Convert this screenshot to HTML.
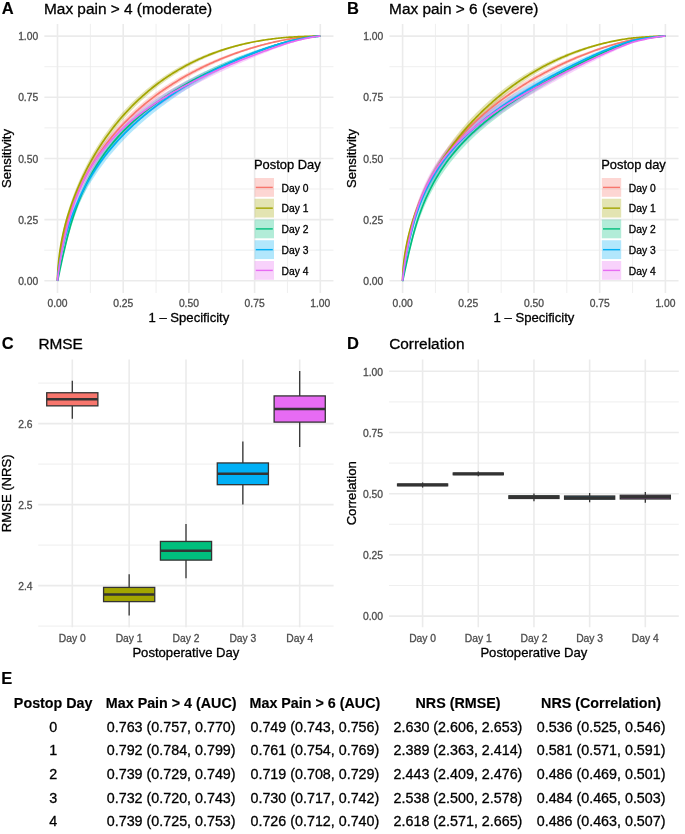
<!DOCTYPE html>
<html><head><meta charset="utf-8"><style>html,body{margin:0;padding:0;background:#fff;width:685px;height:834px;overflow:hidden}svg{display:block;will-change:transform}</style></head><body>
<svg width="685" height="834" viewBox="0 0 685 834" font-family='"Liberation Sans", sans-serif'>
<rect width="685" height="834" fill="#fff"/>
<line x1="90.35" y1="23.90" x2="90.35" y2="293.00" stroke="#EBEBEB" stroke-width="0.8" />
<line x1="44.35" y1="250.21" x2="333.45" y2="250.21" stroke="#EBEBEB" stroke-width="0.8" />
<line x1="156.05" y1="23.90" x2="156.05" y2="293.00" stroke="#EBEBEB" stroke-width="0.8" />
<line x1="44.35" y1="189.04" x2="333.45" y2="189.04" stroke="#EBEBEB" stroke-width="0.8" />
<line x1="221.75" y1="23.90" x2="221.75" y2="293.00" stroke="#EBEBEB" stroke-width="0.8" />
<line x1="44.35" y1="127.86" x2="333.45" y2="127.86" stroke="#EBEBEB" stroke-width="0.8" />
<line x1="287.45" y1="23.90" x2="287.45" y2="293.00" stroke="#EBEBEB" stroke-width="0.8" />
<line x1="44.35" y1="66.69" x2="333.45" y2="66.69" stroke="#EBEBEB" stroke-width="0.8" />
<line x1="57.50" y1="23.90" x2="57.50" y2="293.00" stroke="#EBEBEB" stroke-width="1.6" />
<line x1="44.35" y1="280.80" x2="333.45" y2="280.80" stroke="#EBEBEB" stroke-width="1.6" />
<line x1="123.20" y1="23.90" x2="123.20" y2="293.00" stroke="#EBEBEB" stroke-width="1.6" />
<line x1="44.35" y1="219.62" x2="333.45" y2="219.62" stroke="#EBEBEB" stroke-width="1.6" />
<line x1="188.90" y1="23.90" x2="188.90" y2="293.00" stroke="#EBEBEB" stroke-width="1.6" />
<line x1="44.35" y1="158.45" x2="333.45" y2="158.45" stroke="#EBEBEB" stroke-width="1.6" />
<line x1="254.60" y1="23.90" x2="254.60" y2="293.00" stroke="#EBEBEB" stroke-width="1.6" />
<line x1="44.35" y1="97.28" x2="333.45" y2="97.28" stroke="#EBEBEB" stroke-width="1.6" />
<line x1="320.30" y1="23.90" x2="320.30" y2="293.00" stroke="#EBEBEB" stroke-width="1.6" />
<line x1="44.35" y1="36.10" x2="333.45" y2="36.10" stroke="#EBEBEB" stroke-width="1.6" />
<polygon points="57.50,280.80 57.50,280.77 57.50,280.76 57.50,280.75 57.50,280.74 57.50,280.73 57.50,280.71 57.50,280.69 57.50,280.67 57.50,280.64 57.50,280.60 57.50,280.56 57.50,280.51 57.51,280.45 57.51,280.37 57.51,280.28 57.51,280.18 57.52,280.05 57.52,279.89 57.53,279.70 57.53,279.48 57.54,279.21 57.55,278.89 57.57,278.50 57.59,278.04 57.62,277.49 57.65,276.83 57.69,276.06 57.75,275.13 57.82,274.04 57.91,272.74 58.03,271.21 58.19,269.41 58.39,267.29 58.65,264.80 58.98,261.89 59.40,258.49 59.95,254.53 60.66,249.94 61.58,244.63 62.76,238.52 64.05,232.49 65.34,227.01 66.64,221.96 67.93,217.26 69.23,212.88 70.52,208.76 71.82,204.87 73.11,201.18 74.40,197.67 75.70,194.32 76.99,191.11 78.29,188.03 79.58,185.07 80.87,182.21 82.17,179.46 83.46,176.80 84.76,174.22 86.05,171.72 87.35,169.30 88.64,166.94 89.93,164.65 91.23,162.43 92.52,160.26 93.82,158.14 95.11,156.08 96.40,154.07 97.70,152.10 98.99,150.18 100.29,148.30 101.58,146.46 102.88,144.66 104.17,142.90 105.46,141.18 106.76,139.49 108.05,137.83 109.35,136.20 110.64,134.61 111.94,133.04 113.23,131.50 114.52,130.00 115.82,128.51 117.11,127.06 118.41,125.62 119.70,124.22 120.99,122.83 122.29,121.47 123.58,120.13 124.88,118.81 126.17,117.51 127.47,116.24 128.76,114.98 130.05,113.74 131.35,112.52 132.64,111.32 133.94,110.13 135.23,108.97 136.52,107.82 137.82,106.68 139.11,105.57 140.41,104.47 141.70,103.38 143.00,102.31 144.29,101.25 145.58,100.21 146.88,99.18 148.17,98.17 149.47,97.16 150.76,96.18 152.06,95.20 153.35,94.24 154.64,93.29 155.94,92.35 157.23,91.43 158.53,90.51 159.82,89.61 161.11,88.72 162.41,87.84 163.70,86.97 165.00,86.11 166.29,85.26 167.59,84.43 168.88,83.60 170.17,82.78 171.47,81.97 172.76,81.18 174.06,80.39 175.35,79.61 176.64,78.84 177.94,78.08 179.23,77.33 180.53,76.59 181.82,75.86 183.12,75.13 184.41,74.42 185.70,73.71 187.00,73.01 188.29,72.32 189.59,71.64 190.88,70.96 192.17,70.30 193.47,69.64 194.76,68.99 196.06,68.35 197.35,67.71 198.65,67.08 199.94,66.46 201.23,65.85 202.53,65.24 203.82,64.64 205.12,64.05 206.41,63.47 207.71,62.89 209.00,62.32 210.29,61.76 211.59,61.20 212.88,60.65 214.18,60.10 215.47,59.57 216.76,59.04 218.06,58.51 219.35,58.00 220.65,57.48 221.94,56.98 223.24,56.48 224.53,55.99 225.82,55.50 227.12,55.02 228.41,54.55 229.71,54.08 231.00,53.62 232.29,53.16 233.59,52.71 234.88,52.27 236.18,51.83 237.47,51.40 238.77,50.97 240.06,50.55 241.35,50.14 242.65,49.73 243.94,49.33 245.24,48.93 246.53,48.54 247.83,48.15 249.12,47.77 250.41,47.40 251.71,47.03 253.00,46.67 254.30,46.31 255.59,45.96 256.88,45.61 258.18,45.27 259.47,44.94 260.77,44.61 262.06,44.28 263.36,43.97 264.65,43.65 265.94,43.35 267.24,43.05 268.53,42.75 269.83,42.46 271.12,42.18 272.41,41.90 273.71,41.62 275.00,41.36 276.30,41.09 277.59,40.84 278.89,40.59 280.18,40.34 281.47,40.10 282.77,39.87 284.06,39.65 285.36,39.42 286.65,39.21 287.94,39.01 289.24,38.83 290.53,38.65 291.83,38.48 293.12,38.32 294.42,38.15 295.71,38.00 297.00,37.85 298.30,37.70 299.59,37.56 300.89,37.42 302.18,37.29 303.48,37.17 304.77,37.05 306.06,36.93 307.36,36.82 308.65,36.72 309.95,36.62 311.24,36.53 312.53,36.44 313.83,36.36 315.12,36.29 316.42,36.23 317.71,36.17 319.01,36.13 320.30,36.10 320.30,36.10 320.30,36.10 320.30,36.10 319.01,36.14 317.71,36.20 316.42,36.27 315.12,36.35 313.83,36.44 312.53,36.54 311.24,36.65 309.95,36.77 308.65,36.89 307.36,37.02 306.06,37.15 304.77,37.30 303.48,37.45 302.18,37.60 300.89,37.76 299.59,37.93 298.30,38.10 297.00,38.28 295.71,38.46 294.42,38.65 293.12,38.84 291.83,39.04 290.53,39.25 289.24,39.46 287.94,39.67 286.65,39.91 285.36,40.17 284.06,40.43 282.77,40.70 281.47,40.98 280.18,41.26 278.89,41.55 277.59,41.84 276.30,42.14 275.00,42.45 273.71,42.76 272.41,43.08 271.12,43.41 269.83,43.74 268.53,44.07 267.24,44.42 265.94,44.77 264.65,45.12 263.36,45.49 262.06,45.85 260.77,46.23 259.47,46.61 258.18,46.99 256.88,47.38 255.59,47.78 254.30,48.18 253.00,48.59 251.71,49.01 250.41,49.43 249.12,49.85 247.83,50.29 246.53,50.72 245.24,51.17 243.94,51.62 242.65,52.08 241.35,52.54 240.06,53.01 238.77,53.48 237.47,53.96 236.18,54.45 234.88,54.94 233.59,55.44 232.29,55.94 231.00,56.45 229.71,56.97 228.41,57.49 227.12,58.02 225.82,58.56 224.53,59.10 223.24,59.65 221.94,60.20 220.65,60.77 219.35,61.33 218.06,61.91 216.76,62.49 215.47,63.08 214.18,63.67 212.88,64.27 211.59,64.88 210.29,65.49 209.00,66.11 207.71,66.74 206.41,67.38 205.12,68.02 203.82,68.67 202.53,69.32 201.23,69.99 199.94,70.66 198.65,71.34 197.35,72.02 196.06,72.71 194.76,73.41 193.47,74.12 192.17,74.84 190.88,75.56 189.59,76.29 188.29,77.03 187.00,77.78 185.70,78.54 184.41,79.30 183.12,80.08 181.82,80.86 180.53,81.65 179.23,82.45 177.94,83.25 176.64,84.07 175.35,84.90 174.06,85.73 172.76,86.57 171.47,87.43 170.17,88.29 168.88,89.16 167.59,90.05 166.29,90.94 165.00,91.84 163.70,92.76 162.41,93.68 161.11,94.62 159.82,95.56 158.53,96.52 157.23,97.49 155.94,98.47 154.64,99.46 153.35,100.46 152.06,101.48 150.76,102.50 149.47,103.54 148.17,104.60 146.88,105.66 145.58,106.74 144.29,107.83 143.00,108.94 141.70,110.06 140.41,111.20 139.11,112.35 137.82,113.51 136.52,114.69 135.23,115.89 133.94,117.10 132.64,118.33 131.35,119.58 130.05,120.84 128.76,122.12 127.47,123.42 126.17,124.74 124.88,126.08 123.58,127.44 122.29,128.82 120.99,130.22 119.70,131.64 118.41,133.08 117.11,134.55 115.82,136.04 114.52,137.55 113.23,139.09 111.94,140.66 110.64,142.25 109.35,143.87 108.05,145.52 106.76,147.20 105.46,148.91 104.17,150.65 102.88,152.43 101.58,154.24 100.29,156.09 98.99,157.98 97.70,159.90 96.40,161.87 95.11,163.89 93.82,165.94 92.52,168.05 91.23,170.21 89.93,172.42 88.64,174.69 87.35,177.02 86.05,179.41 84.76,181.87 83.46,184.40 82.17,187.01 80.87,189.71 79.58,192.50 78.29,195.38 76.99,198.37 75.70,201.48 74.40,204.72 73.11,208.10 71.82,211.64 70.52,215.36 69.23,219.28 67.93,223.44 66.64,227.88 65.34,232.63 64.05,237.75 62.76,243.33 61.58,248.96 60.66,253.81 59.95,257.97 59.40,261.53 58.98,264.56 58.65,267.15 58.39,269.34 58.19,271.19 58.03,272.76 57.91,274.08 57.82,275.19 57.75,276.12 57.69,276.91 57.65,277.56 57.62,278.11 57.59,278.57 57.57,278.95 57.55,279.27 57.54,279.53 57.53,279.75 57.53,279.93 57.52,280.09 57.52,280.21 57.51,280.31 57.51,280.40 57.51,280.47 57.51,280.53 57.50,280.58 57.50,280.62 57.50,280.65 57.50,280.68 57.50,280.70 57.50,280.72 57.50,280.73 57.50,280.74 57.50,280.75 57.50,280.76 57.50,280.77 57.50,280.78 57.50,280.80" fill="#F8766D" fill-opacity="0.3" stroke="none"/>
<polygon points="57.50,280.80 57.50,280.67 57.50,280.65 57.50,280.62 57.50,280.59 57.50,280.56 57.50,280.51 57.50,280.46 57.50,280.40 57.50,280.34 57.50,280.25 57.50,280.16 57.50,280.05 57.51,279.92 57.51,279.77 57.51,279.59 57.51,279.38 57.52,279.14 57.52,278.86 57.53,278.54 57.53,278.16 57.54,277.71 57.55,277.20 57.57,276.61 57.59,275.92 57.62,275.12 57.65,274.19 57.69,273.12 57.75,271.89 57.82,270.47 57.91,268.83 58.03,266.95 58.19,264.79 58.39,262.31 58.65,259.47 58.98,256.23 59.40,252.54 59.95,248.34 60.66,243.57 61.58,238.17 62.76,232.08 64.05,226.17 65.34,220.88 66.64,216.05 67.93,211.58 69.23,207.37 70.52,203.38 71.82,199.58 73.11,195.96 74.40,192.48 75.70,189.14 76.99,185.92 78.29,182.81 79.58,179.81 80.87,176.90 82.17,174.07 83.46,171.33 84.76,168.67 86.05,166.08 87.35,163.56 88.64,161.10 89.93,158.70 91.23,156.36 92.52,154.07 93.82,151.84 95.11,149.66 96.40,147.52 97.70,145.43 98.99,143.39 100.29,141.39 101.58,139.43 102.88,137.50 104.17,135.62 105.46,133.77 106.76,131.96 108.05,130.18 109.35,128.44 110.64,126.72 111.94,125.04 113.23,123.39 114.52,121.77 115.82,120.18 117.11,118.61 118.41,117.08 119.70,115.57 120.99,114.08 122.29,112.62 123.58,111.19 124.88,109.78 126.17,108.39 127.47,107.02 128.76,105.68 130.05,104.36 131.35,103.06 132.64,101.78 133.94,100.53 135.23,99.29 136.52,98.07 137.82,96.88 139.11,95.70 140.41,94.54 141.70,93.40 143.00,92.27 144.29,91.17 145.58,90.08 146.88,89.01 148.17,87.95 149.47,86.91 150.76,85.89 152.06,84.89 153.35,83.90 154.64,82.92 155.94,81.96 157.23,81.02 158.53,80.09 159.82,79.17 161.11,78.27 162.41,77.38 163.70,76.51 165.00,75.65 166.29,74.80 167.59,73.97 168.88,73.15 170.17,72.34 171.47,71.55 172.76,70.77 174.06,70.00 175.35,69.24 176.64,68.49 177.94,67.76 179.23,67.04 180.53,66.33 181.82,65.63 183.12,64.94 184.41,64.27 185.70,63.60 187.00,62.95 188.29,62.30 189.59,61.67 190.88,61.05 192.17,60.43 193.47,59.83 194.76,59.24 196.06,58.66 197.35,58.09 198.65,57.52 199.94,56.97 201.23,56.43 202.53,55.89 203.82,55.37 205.12,54.85 206.41,54.35 207.71,53.85 209.00,53.36 210.29,52.88 211.59,52.41 212.88,51.95 214.18,51.49 215.47,51.05 216.76,50.61 218.06,50.18 219.35,49.76 220.65,49.35 221.94,48.95 223.24,48.55 224.53,48.16 225.82,47.78 227.12,47.40 228.41,47.04 229.71,46.68 231.00,46.33 232.29,45.98 233.59,45.65 234.88,45.32 236.18,45.00 237.47,44.68 238.77,44.37 240.06,44.07 241.35,43.78 242.65,43.49 243.94,43.21 245.24,42.93 246.53,42.66 247.83,42.40 249.12,42.15 250.41,41.90 251.71,41.65 253.00,41.42 254.30,41.19 255.59,40.96 256.88,40.74 258.18,40.53 259.47,40.32 260.77,40.12 262.06,39.93 263.36,39.74 264.65,39.56 265.94,39.38 267.24,39.20 268.53,39.04 269.83,38.87 271.12,38.72 272.41,38.57 273.71,38.42 275.00,38.28 276.30,38.14 277.59,38.01 278.89,37.89 280.18,37.76 281.47,37.65 282.77,37.54 284.06,37.43 285.36,37.33 286.65,37.23 287.94,37.14 289.24,37.07 290.53,37.00 291.83,36.93 293.12,36.87 294.42,36.80 295.71,36.74 297.00,36.69 298.30,36.63 299.59,36.58 300.89,36.53 302.18,36.48 303.48,36.44 304.77,36.40 306.06,36.36 307.36,36.32 308.65,36.28 309.95,36.25 311.24,36.22 312.53,36.20 313.83,36.17 315.12,36.15 316.42,36.13 317.71,36.12 319.01,36.11 320.30,36.10 320.30,36.10 320.30,36.10 320.30,36.10 319.01,36.11 317.71,36.13 316.42,36.15 315.12,36.17 313.83,36.20 312.53,36.23 311.24,36.27 309.95,36.31 308.65,36.35 307.36,36.40 306.06,36.45 304.77,36.50 303.48,36.55 302.18,36.61 300.89,36.67 299.59,36.74 298.30,36.80 297.00,36.87 295.71,36.95 294.42,37.03 293.12,37.10 291.83,37.19 290.53,37.27 289.24,37.36 287.94,37.45 286.65,37.56 285.36,37.69 284.06,37.81 282.77,37.95 281.47,38.09 280.18,38.23 278.89,38.38 277.59,38.54 276.30,38.70 275.00,38.87 273.71,39.04 272.41,39.22 271.12,39.41 269.83,39.60 268.53,39.80 267.24,40.00 265.94,40.21 264.65,40.43 263.36,40.65 262.06,40.88 260.77,41.12 259.47,41.36 258.18,41.61 256.88,41.86 255.59,42.13 254.30,42.39 253.00,42.67 251.71,42.95 250.41,43.24 249.12,43.54 247.83,43.84 246.53,44.15 245.24,44.47 243.94,44.79 242.65,45.13 241.35,45.47 240.06,45.81 238.77,46.17 237.47,46.53 236.18,46.90 234.88,47.28 233.59,47.66 232.29,48.05 231.00,48.45 229.71,48.86 228.41,49.28 227.12,49.70 225.82,50.14 224.53,50.58 223.24,51.03 221.94,51.48 220.65,51.95 219.35,52.42 218.06,52.91 216.76,53.40 215.47,53.90 214.18,54.41 212.88,54.93 211.59,55.46 210.29,55.99 209.00,56.54 207.71,57.09 206.41,57.66 205.12,58.23 203.82,58.81 202.53,59.41 201.23,60.01 199.94,60.62 198.65,61.24 197.35,61.88 196.06,62.52 194.76,63.17 193.47,63.84 192.17,64.51 190.88,65.19 189.59,65.89 188.29,66.59 187.00,67.31 185.70,68.04 184.41,68.78 183.12,69.53 181.82,70.29 180.53,71.06 179.23,71.84 177.94,72.64 176.64,73.45 175.35,74.27 174.06,75.10 172.76,75.95 171.47,76.80 170.17,77.67 168.88,78.56 167.59,79.45 166.29,80.36 165.00,81.28 163.70,82.22 162.41,83.17 161.11,84.13 159.82,85.11 158.53,86.10 157.23,87.10 155.94,88.12 154.64,89.16 153.35,90.21 152.06,91.27 150.76,92.35 149.47,93.45 148.17,94.56 146.88,95.69 145.58,96.83 144.29,97.99 143.00,99.17 141.70,100.37 140.41,101.58 139.11,102.81 137.82,104.06 136.52,105.32 135.23,106.61 133.94,107.92 132.64,109.24 131.35,110.58 130.05,111.95 128.76,113.33 127.47,114.74 126.17,116.17 124.88,117.62 123.58,119.09 122.29,120.58 120.99,122.10 119.70,123.64 118.41,125.21 117.11,126.80 115.82,128.42 114.52,130.06 113.23,131.73 111.94,133.43 110.64,135.16 109.35,136.91 108.05,138.70 106.76,140.51 105.46,142.36 104.17,144.24 102.88,146.16 101.58,148.11 100.29,150.10 98.99,152.12 97.70,154.18 96.40,156.29 95.11,158.43 93.82,160.62 92.52,162.86 91.23,165.14 89.93,167.47 88.64,169.86 87.35,172.30 86.05,174.80 84.76,177.36 83.46,179.98 82.17,182.67 80.87,185.44 79.58,188.28 78.29,191.21 76.99,194.23 75.70,197.36 74.40,200.58 73.11,203.93 71.82,207.41 70.52,211.04 69.23,214.84 67.93,218.83 66.64,223.05 65.34,227.58 64.05,232.52 62.76,237.99 61.58,243.59 60.66,248.52 59.95,252.83 59.40,256.60 58.98,259.89 58.65,262.75 58.39,265.25 58.19,267.41 58.03,269.28 57.91,270.90 57.82,272.30 57.75,273.51 57.69,274.55 57.65,275.45 57.62,276.22 57.59,276.89 57.57,277.46 57.55,277.95 57.54,278.36 57.53,278.72 57.53,279.03 57.52,279.29 57.52,279.52 57.51,279.71 57.51,279.87 57.51,280.01 57.51,280.13 57.50,280.23 57.50,280.32 57.50,280.39 57.50,280.45 57.50,280.51 57.50,280.55 57.50,280.59 57.50,280.62 57.50,280.65 57.50,280.67 57.50,280.69 57.50,280.71 57.50,280.80" fill="#A3A500" fill-opacity="0.3" stroke="none"/>
<polygon points="57.50,280.80 57.50,280.80 57.50,280.80 57.50,280.80 57.50,280.80 57.50,280.80 57.50,280.80 57.50,280.80 57.50,280.80 57.50,280.80 57.50,280.80 57.50,280.80 57.50,280.79 57.51,280.79 57.51,280.79 57.51,280.78 57.51,280.78 57.52,280.77 57.52,280.76 57.53,280.74 57.53,280.72 57.54,280.69 57.55,280.64 57.57,280.58 57.59,280.51 57.62,280.40 57.65,280.26 57.69,280.07 57.75,279.81 57.82,279.47 57.91,279.02 58.03,278.42 58.19,277.63 58.39,276.60 58.65,275.26 58.98,273.52 59.40,271.28 59.95,268.42 60.66,264.78 61.58,260.20 62.76,254.47 64.05,248.42 65.34,242.60 66.64,237.00 67.93,231.65 69.23,226.61 70.52,221.86 71.82,217.37 73.11,213.12 74.40,209.08 75.70,205.24 76.99,201.57 78.29,198.07 79.58,194.72 80.87,191.51 82.17,188.42 83.46,185.45 84.76,182.60 86.05,179.84 87.35,177.19 88.64,174.62 89.93,172.14 91.23,169.73 92.52,167.40 93.82,165.14 95.11,162.95 96.40,160.82 97.70,158.75 98.99,156.73 100.29,154.77 101.58,152.86 102.88,151.00 104.17,149.18 105.46,147.41 106.76,145.68 108.05,143.99 109.35,142.34 110.64,140.72 111.94,139.14 113.23,137.59 114.52,136.08 115.82,134.59 117.11,133.14 118.41,131.71 119.70,130.32 120.99,128.94 122.29,127.60 123.58,126.28 124.88,124.98 126.17,123.71 127.47,122.45 128.76,121.22 130.05,120.01 131.35,118.82 132.64,117.65 133.94,116.50 135.23,115.36 136.52,114.25 137.82,113.15 139.11,112.07 140.41,111.00 141.70,109.95 143.00,108.91 144.29,107.89 145.58,106.88 146.88,105.89 148.17,104.91 149.47,103.94 150.76,102.99 152.06,102.05 153.35,101.12 154.64,100.20 155.94,99.30 157.23,98.40 158.53,97.52 159.82,96.64 161.11,95.78 162.41,94.93 163.70,94.09 165.00,93.25 166.29,92.43 167.59,91.61 168.88,90.81 170.17,90.01 171.47,89.22 172.76,88.44 174.06,87.67 175.35,86.91 176.64,86.15 177.94,85.41 179.23,84.67 180.53,83.93 181.82,83.21 183.12,82.49 184.41,81.78 185.70,81.07 187.00,80.37 188.29,79.68 189.59,79.00 190.88,78.32 192.17,77.65 193.47,76.98 194.76,76.32 196.06,75.67 197.35,75.02 198.65,74.37 199.94,73.74 201.23,73.11 202.53,72.48 203.82,71.86 205.12,71.24 206.41,70.63 207.71,70.03 209.00,69.42 210.29,68.83 211.59,68.24 212.88,67.65 214.18,67.07 215.47,66.49 216.76,65.92 218.06,65.35 219.35,64.79 220.65,64.23 221.94,63.68 223.24,63.13 224.53,62.58 225.82,62.04 227.12,61.50 228.41,60.97 229.71,60.44 231.00,59.92 232.29,59.40 233.59,58.88 234.88,58.37 236.18,57.86 237.47,57.35 238.77,56.85 240.06,56.36 241.35,55.86 242.65,55.38 243.94,54.89 245.24,54.41 246.53,53.93 247.83,53.46 249.12,52.99 250.41,52.52 251.71,52.06 253.00,51.60 254.30,51.15 255.59,50.70 256.88,50.25 258.18,49.81 259.47,49.37 260.77,48.94 262.06,48.51 263.36,48.08 264.65,47.66 265.94,47.25 267.24,46.83 268.53,46.42 269.83,46.02 271.12,45.62 272.41,45.23 273.71,44.83 275.00,44.45 276.30,44.07 277.59,43.69 278.89,43.32 280.18,42.96 281.47,42.60 282.77,42.24 284.06,41.90 285.36,41.55 286.65,41.22 287.94,40.91 289.24,40.63 290.53,40.35 291.83,40.09 293.12,39.83 294.42,39.57 295.71,39.33 297.00,39.08 298.30,38.85 299.59,38.62 300.89,38.40 302.18,38.19 303.48,37.98 304.77,37.78 306.06,37.59 307.36,37.40 308.65,37.23 309.95,37.06 311.24,36.90 312.53,36.75 313.83,36.61 315.12,36.47 316.42,36.36 317.71,36.25 319.01,36.16 320.30,36.10 320.30,36.10 320.30,36.10 320.30,36.10 319.01,36.19 317.71,36.31 316.42,36.46 315.12,36.62 313.83,36.79 312.53,36.98 311.24,37.17 309.95,37.38 308.65,37.60 307.36,37.83 306.06,38.07 304.77,38.31 303.48,38.56 302.18,38.83 300.89,39.10 299.59,39.37 298.30,39.66 297.00,39.95 295.71,40.25 294.42,40.56 293.12,40.87 291.83,41.19 290.53,41.52 289.24,41.86 287.94,42.20 286.65,42.58 285.36,42.99 284.06,43.40 282.77,43.83 281.47,44.25 280.18,44.69 278.89,45.13 277.59,45.57 276.30,46.02 275.00,46.48 273.71,46.94 272.41,47.40 271.12,47.87 269.83,48.34 268.53,48.82 267.24,49.31 265.94,49.79 264.65,50.28 263.36,50.78 262.06,51.28 260.77,51.78 259.47,52.29 258.18,52.80 256.88,53.32 255.59,53.83 254.30,54.36 253.00,54.88 251.71,55.41 250.41,55.95 249.12,56.49 247.83,57.03 246.53,57.57 245.24,58.12 243.94,58.67 242.65,59.23 241.35,59.79 240.06,60.35 238.77,60.92 237.47,61.49 236.18,62.07 234.88,62.65 233.59,63.23 232.29,63.82 231.00,64.41 229.71,65.00 228.41,65.60 227.12,66.20 225.82,66.81 224.53,67.41 223.24,68.03 221.94,68.65 220.65,69.27 219.35,69.90 218.06,70.53 216.76,71.16 215.47,71.80 214.18,72.44 212.88,73.09 211.59,73.74 210.29,74.40 209.00,75.06 207.71,75.73 206.41,76.40 205.12,77.08 203.82,77.76 202.53,78.45 201.23,79.14 199.94,79.83 198.65,80.54 197.35,81.24 196.06,81.96 194.76,82.67 193.47,83.40 192.17,84.13 190.88,84.86 189.59,85.61 188.29,86.35 187.00,87.11 185.70,87.87 184.41,88.63 183.12,89.41 181.82,90.19 180.53,90.98 179.23,91.77 177.94,92.57 176.64,93.38 175.35,94.20 174.06,95.02 172.76,95.85 171.47,96.69 170.17,97.54 168.88,98.39 167.59,99.26 166.29,100.13 165.00,101.01 163.70,101.90 162.41,102.80 161.11,103.71 159.82,104.63 158.53,105.56 157.23,106.50 155.94,107.45 154.64,108.42 153.35,109.39 152.06,110.37 150.76,111.37 149.47,112.37 148.17,113.39 146.88,114.43 145.58,115.47 144.29,116.53 143.00,117.60 141.70,118.69 140.41,119.79 139.11,120.91 137.82,122.04 136.52,123.19 135.23,124.35 133.94,125.53 132.64,126.73 131.35,127.94 130.05,129.18 128.76,130.43 127.47,131.70 126.17,133.00 124.88,134.31 123.58,135.65 122.29,137.00 120.99,138.39 119.70,139.79 118.41,141.22 117.11,142.68 115.82,144.16 114.52,145.68 113.23,147.22 111.94,148.79 110.64,150.39 109.35,152.03 108.05,153.70 106.76,155.40 105.46,157.15 104.17,158.93 102.88,160.75 101.58,162.62 100.29,164.53 98.99,166.49 97.70,168.49 96.40,170.55 95.11,172.66 93.82,174.83 92.52,177.06 91.23,179.36 89.93,181.72 88.64,184.15 87.35,186.66 86.05,189.25 84.76,191.93 83.46,194.69 82.17,197.56 80.87,200.53 79.58,203.62 78.29,206.82 76.99,210.16 75.70,213.63 74.40,217.26 73.11,221.06 71.82,225.04 70.52,229.21 69.23,233.60 67.93,238.23 66.64,243.10 65.34,248.16 64.05,253.37 62.76,258.72 61.58,263.72 60.66,267.67 59.95,270.77 59.40,273.17 58.98,275.03 58.65,276.45 58.39,277.54 58.19,278.36 58.03,278.99 57.91,279.46 57.82,279.81 57.75,280.07 57.69,280.26 57.65,280.41 57.62,280.51 57.59,280.59 57.57,280.65 57.55,280.69 57.54,280.72 57.53,280.74 57.53,280.76 57.52,280.77 57.52,280.78 57.51,280.78 57.51,280.79 57.51,280.79 57.51,280.79 57.50,280.80 57.50,280.80 57.50,280.80 57.50,280.80 57.50,280.80 57.50,280.80 57.50,280.80 57.50,280.80 57.50,280.80 57.50,280.80 57.50,280.80 57.50,280.80 57.50,280.80" fill="#00BF7D" fill-opacity="0.3" stroke="none"/>
<polygon points="57.50,280.80 57.50,280.79 57.50,280.78 57.50,280.78 57.50,280.77 57.50,280.77 57.50,280.76 57.50,280.75 57.50,280.74 57.50,280.72 57.50,280.70 57.50,280.68 57.50,280.65 57.51,280.61 57.51,280.57 57.51,280.52 57.51,280.45 57.52,280.37 57.52,280.27 57.53,280.15 57.53,280.00 57.54,279.82 57.55,279.60 57.57,279.33 57.59,279.00 57.62,278.61 57.65,278.13 57.69,277.54 57.75,276.83 57.82,275.98 57.91,274.96 58.03,273.72 58.19,272.24 58.39,270.47 58.65,268.35 58.98,265.83 59.40,262.84 59.95,259.30 60.66,255.13 61.58,250.22 62.76,244.48 64.05,238.75 65.34,233.47 66.64,228.55 67.93,223.95 69.23,219.66 70.52,215.62 71.82,211.82 73.11,208.20 74.40,204.77 75.70,201.49 76.99,198.35 78.29,195.35 79.58,192.45 80.87,189.67 82.17,186.98 83.46,184.38 84.76,181.87 86.05,179.44 87.35,177.07 88.64,174.78 89.93,172.55 91.23,170.38 92.52,168.27 93.82,166.21 95.11,164.21 96.40,162.25 97.70,160.33 98.99,158.46 100.29,156.63 101.58,154.84 102.88,153.09 104.17,151.37 105.46,149.69 106.76,148.04 108.05,146.42 109.35,144.84 110.64,143.28 111.94,141.75 113.23,140.25 114.52,138.77 115.82,137.32 117.11,135.89 118.41,134.49 119.70,133.11 120.99,131.75 122.29,130.41 123.58,129.09 124.88,127.79 126.17,126.51 127.47,125.25 128.76,124.01 130.05,122.79 131.35,121.58 132.64,120.39 133.94,119.22 135.23,118.06 136.52,116.92 137.82,115.79 139.11,114.67 140.41,113.58 141.70,112.49 143.00,111.42 144.29,110.36 145.58,109.31 146.88,108.28 148.17,107.26 149.47,106.25 150.76,105.26 152.06,104.27 153.35,103.30 154.64,102.33 155.94,101.38 157.23,100.44 158.53,99.51 159.82,98.59 161.11,97.68 162.41,96.78 163.70,95.89 165.00,95.01 166.29,94.13 167.59,93.27 168.88,92.42 170.17,91.57 171.47,90.73 172.76,89.90 174.06,89.08 175.35,88.27 176.64,87.47 177.94,86.67 179.23,85.88 180.53,85.10 181.82,84.33 183.12,83.57 184.41,82.81 185.70,82.06 187.00,81.31 188.29,80.58 189.59,79.85 190.88,79.12 192.17,78.41 193.47,77.70 194.76,77.00 196.06,76.30 197.35,75.61 198.65,74.93 199.94,74.25 201.23,73.58 202.53,72.92 203.82,72.26 205.12,71.60 206.41,70.96 207.71,70.32 209.00,69.68 210.29,69.05 211.59,68.43 212.88,67.81 214.18,67.20 215.47,66.59 216.76,65.99 218.06,65.40 219.35,64.81 220.65,64.22 221.94,63.64 223.24,63.07 224.53,62.50 225.82,61.94 227.12,61.38 228.41,60.83 229.71,60.28 231.00,59.74 232.29,59.20 233.59,58.67 234.88,58.14 236.18,57.62 237.47,57.10 238.77,56.59 240.06,56.08 241.35,55.58 242.65,55.08 243.94,54.59 245.24,54.10 246.53,53.61 247.83,53.14 249.12,52.66 250.41,52.20 251.71,51.73 253.00,51.28 254.30,50.82 255.59,50.37 256.88,49.93 258.18,49.49 259.47,49.06 260.77,48.63 262.06,48.21 263.36,47.79 264.65,47.38 265.94,46.97 267.24,46.57 268.53,46.17 269.83,45.78 271.12,45.39 272.41,45.01 273.71,44.63 275.00,44.26 276.30,43.90 277.59,43.54 278.89,43.18 280.18,42.84 281.47,42.49 282.77,42.16 284.06,41.83 285.36,41.50 286.65,41.19 287.94,40.89 289.24,40.61 290.53,40.34 291.83,40.07 293.12,39.81 294.42,39.56 295.71,39.31 297.00,39.07 298.30,38.84 299.59,38.61 300.89,38.39 302.18,38.18 303.48,37.97 304.77,37.77 306.06,37.58 307.36,37.40 308.65,37.22 309.95,37.05 311.24,36.89 312.53,36.74 313.83,36.60 315.12,36.47 316.42,36.35 317.71,36.25 319.01,36.16 320.30,36.10 320.30,36.10 320.30,36.10 320.30,36.10 319.01,36.19 317.71,36.32 316.42,36.47 315.12,36.64 313.83,36.82 312.53,37.01 311.24,37.22 309.95,37.44 308.65,37.66 307.36,37.90 306.06,38.14 304.77,38.40 303.48,38.66 302.18,38.93 300.89,39.21 299.59,39.50 298.30,39.79 297.00,40.09 295.71,40.40 294.42,40.72 293.12,41.04 291.83,41.37 290.53,41.71 289.24,42.05 287.94,42.40 286.65,42.78 285.36,43.18 284.06,43.59 282.77,44.00 281.47,44.42 280.18,44.84 278.89,45.28 277.59,45.71 276.30,46.16 275.00,46.61 273.71,47.06 272.41,47.52 271.12,47.99 269.83,48.46 268.53,48.94 267.24,49.42 265.94,49.91 264.65,50.40 263.36,50.90 262.06,51.40 260.77,51.91 259.47,52.42 258.18,52.94 256.88,53.46 255.59,53.99 254.30,54.53 253.00,55.06 251.71,55.61 250.41,56.16 249.12,56.71 247.83,57.27 246.53,57.83 245.24,58.40 243.94,58.97 242.65,59.55 241.35,60.13 240.06,60.72 238.77,61.31 237.47,61.91 236.18,62.51 234.88,63.12 233.59,63.73 232.29,64.34 231.00,64.97 229.71,65.59 228.41,66.22 227.12,66.86 225.82,67.50 224.53,68.15 223.24,68.80 221.94,69.46 220.65,70.12 219.35,70.79 218.06,71.46 216.76,72.14 215.47,72.82 214.18,73.51 212.88,74.20 211.59,74.90 210.29,75.60 209.00,76.31 207.71,77.03 206.41,77.75 205.12,78.48 203.82,79.21 202.53,79.95 201.23,80.69 199.94,81.44 198.65,82.19 197.35,82.96 196.06,83.72 194.76,84.50 193.47,85.28 192.17,86.06 190.88,86.86 189.59,87.66 188.29,88.46 187.00,89.27 185.70,90.09 184.41,90.92 183.12,91.75 181.82,92.59 180.53,93.44 179.23,94.29 177.94,95.15 176.64,96.02 175.35,96.90 174.06,97.78 172.76,98.67 171.47,99.57 170.17,100.48 168.88,101.40 167.59,102.32 166.29,103.25 165.00,104.19 163.70,105.14 162.41,106.10 161.11,107.07 159.82,108.05 158.53,109.03 157.23,110.03 155.94,111.04 154.64,112.05 153.35,113.08 152.06,114.11 150.76,115.16 149.47,116.22 148.17,117.29 146.88,118.37 145.58,119.46 144.29,120.56 143.00,121.67 141.70,122.80 140.41,123.94 139.11,125.09 137.82,126.26 136.52,127.44 135.23,128.63 133.94,129.84 132.64,131.06 131.35,132.30 130.05,133.55 128.76,134.82 127.47,136.11 126.17,137.41 124.88,138.73 123.58,140.07 122.29,141.42 120.99,142.80 119.70,144.19 118.41,145.60 117.11,147.04 115.82,148.49 114.52,149.97 113.23,151.47 111.94,152.99 110.64,154.54 109.35,156.12 108.05,157.72 106.76,159.35 105.46,161.00 104.17,162.69 102.88,164.41 101.58,166.16 100.29,167.94 98.99,169.76 97.70,171.62 96.40,173.51 95.11,175.45 93.82,177.42 92.52,179.45 91.23,181.52 89.93,183.64 88.64,185.81 87.35,188.04 86.05,190.34 84.76,192.69 83.46,195.11 82.17,197.61 80.87,200.18 79.58,202.84 78.29,205.60 76.99,208.45 75.70,211.41 74.40,214.49 73.11,217.71 71.82,221.07 70.52,224.60 69.23,228.31 67.93,232.24 66.64,236.42 65.34,240.86 64.05,245.58 62.76,250.66 61.58,255.68 60.66,259.92 59.95,263.48 59.40,266.47 58.98,268.97 58.65,271.05 58.39,272.78 58.19,274.21 58.03,275.40 57.91,276.38 57.82,277.19 57.75,277.85 57.69,278.39 57.65,278.84 57.62,279.21 57.59,279.51 57.57,279.75 57.55,279.95 57.54,280.11 57.53,280.24 57.53,280.35 57.52,280.44 57.52,280.51 57.51,280.56 57.51,280.61 57.51,280.65 57.51,280.68 57.50,280.70 57.50,280.72 57.50,280.74 57.50,280.75 57.50,280.76 57.50,280.77 57.50,280.77 57.50,280.78 57.50,280.78 57.50,280.79 57.50,280.79 57.50,280.79 57.50,280.80" fill="#00B0F6" fill-opacity="0.3" stroke="none"/>
<polygon points="57.50,280.80 57.50,280.80 57.50,280.80 57.50,280.79 57.50,280.79 57.50,280.79 57.50,280.79 57.50,280.78 57.50,280.78 57.50,280.77 57.50,280.77 57.50,280.76 57.50,280.74 57.51,280.73 57.51,280.71 57.51,280.68 57.51,280.64 57.52,280.60 57.52,280.54 57.53,280.47 57.53,280.38 57.54,280.26 57.55,280.11 57.57,279.92 57.59,279.68 57.62,279.38 57.65,279.00 57.69,278.52 57.75,277.92 57.82,277.17 57.91,276.25 58.03,275.10 58.19,273.67 58.39,271.92 58.65,269.77 58.98,267.15 59.40,263.95 59.95,260.09 60.66,255.44 61.58,249.88 62.76,243.28 64.05,236.60 65.34,230.40 66.64,224.61 67.93,219.19 69.23,214.18 70.52,209.53 71.82,205.18 73.11,201.11 74.40,197.27 75.70,193.65 76.99,190.22 78.29,186.96 79.58,183.85 80.87,180.89 82.17,178.06 83.46,175.35 84.76,172.74 86.05,170.24 87.35,167.83 88.64,165.50 89.93,163.26 91.23,161.10 92.52,159.00 93.82,156.97 95.11,155.00 96.40,153.09 97.70,151.24 98.99,149.43 100.29,147.68 101.58,145.97 102.88,144.31 104.17,142.69 105.46,141.11 106.76,139.57 108.05,138.06 109.35,136.59 110.64,135.15 111.94,133.74 113.23,132.36 114.52,131.01 115.82,129.69 117.11,128.40 118.41,127.13 119.70,125.88 120.99,124.66 122.29,123.46 123.58,122.28 124.88,121.13 126.17,119.99 127.47,118.87 128.76,117.77 130.05,116.69 131.35,115.63 132.64,114.58 133.94,113.55 135.23,112.54 136.52,111.54 137.82,110.55 139.11,109.58 140.41,108.63 141.70,107.68 143.00,106.75 144.29,105.84 145.58,104.93 146.88,104.04 148.17,103.16 149.47,102.29 150.76,101.43 152.06,100.58 153.35,99.74 154.64,98.91 155.94,98.09 157.23,97.28 158.53,96.48 159.82,95.69 161.11,94.91 162.41,94.14 163.70,93.37 165.00,92.61 166.29,91.86 167.59,91.12 168.88,90.39 170.17,89.66 171.47,88.94 172.76,88.23 174.06,87.53 175.35,86.83 176.64,86.13 177.94,85.45 179.23,84.77 180.53,84.10 181.82,83.43 183.12,82.77 184.41,82.11 185.70,81.46 187.00,80.82 188.29,80.18 189.59,79.54 190.88,78.92 192.17,78.29 193.47,77.67 194.76,77.06 196.06,76.45 197.35,75.85 198.65,75.25 199.94,74.65 201.23,74.06 202.53,73.48 203.82,72.89 205.12,72.32 206.41,71.74 207.71,71.17 209.00,70.61 210.29,70.04 211.59,69.49 212.88,68.93 214.18,68.38 215.47,67.83 216.76,67.29 218.06,66.75 219.35,66.22 220.65,65.68 221.94,65.15 223.24,64.63 224.53,64.10 225.82,63.58 227.12,63.07 228.41,62.55 229.71,62.04 231.00,61.54 232.29,61.03 233.59,60.53 234.88,60.04 236.18,59.54 237.47,59.05 238.77,58.56 240.06,58.07 241.35,57.59 242.65,57.11 243.94,56.63 245.24,56.16 246.53,55.68 247.83,55.21 249.12,54.75 250.41,54.28 251.71,53.82 253.00,53.37 254.30,52.91 255.59,52.46 256.88,52.01 258.18,51.56 259.47,51.12 260.77,50.68 262.06,50.24 263.36,49.80 264.65,49.37 265.94,48.94 267.24,48.51 268.53,48.09 269.83,47.67 271.12,47.25 272.41,46.84 273.71,46.42 275.00,46.02 276.30,45.61 277.59,45.21 278.89,44.81 280.18,44.42 281.47,44.03 282.77,43.65 284.06,43.26 285.36,42.89 286.65,42.52 287.94,42.16 289.24,41.82 290.53,41.48 291.83,41.16 293.12,40.84 294.42,40.53 295.71,40.22 297.00,39.92 298.30,39.63 299.59,39.35 300.89,39.07 302.18,38.81 303.48,38.55 304.77,38.29 306.06,38.05 307.36,37.81 308.65,37.59 309.95,37.37 311.24,37.16 312.53,36.97 313.83,36.78 315.12,36.61 316.42,36.45 317.71,36.31 319.01,36.19 320.30,36.10 320.30,36.10 320.30,36.10 320.30,36.10 319.01,36.23 317.71,36.41 316.42,36.62 315.12,36.84 313.83,37.08 312.53,37.34 311.24,37.60 309.95,37.88 308.65,38.18 307.36,38.48 306.06,38.79 304.77,39.11 303.48,39.45 302.18,39.79 300.89,40.14 299.59,40.49 298.30,40.86 297.00,41.23 295.71,41.62 294.42,42.01 293.12,42.40 291.83,42.81 290.53,43.22 289.24,43.64 287.94,44.07 286.65,44.52 285.36,44.99 284.06,45.46 282.77,45.93 281.47,46.41 280.18,46.89 278.89,47.38 277.59,47.87 276.30,48.36 275.00,48.85 273.71,49.35 272.41,49.85 271.12,50.36 269.83,50.87 268.53,51.38 267.24,51.89 265.94,52.40 264.65,52.92 263.36,53.44 262.06,53.96 260.77,54.49 259.47,55.02 258.18,55.55 256.88,56.08 255.59,56.62 254.30,57.15 253.00,57.69 251.71,58.24 250.41,58.78 249.12,59.33 247.83,59.88 246.53,60.43 245.24,60.98 243.94,61.54 242.65,62.10 241.35,62.66 240.06,63.22 238.77,63.79 237.47,64.36 236.18,64.93 234.88,65.51 233.59,66.08 232.29,66.66 231.00,67.25 229.71,67.83 228.41,68.42 227.12,69.01 225.82,69.60 224.53,70.20 223.24,70.80 221.94,71.40 220.65,72.01 219.35,72.61 218.06,73.23 216.76,73.84 215.47,74.46 214.18,75.08 212.88,75.70 211.59,76.33 210.29,76.96 209.00,77.60 207.71,78.24 206.41,78.88 205.12,79.53 203.82,80.18 202.53,80.83 201.23,81.49 199.94,82.15 198.65,82.82 197.35,83.49 196.06,84.16 194.76,84.84 193.47,85.52 192.17,86.21 190.88,86.91 189.59,87.60 188.29,88.31 187.00,89.01 185.70,89.73 184.41,90.45 183.12,91.17 181.82,91.90 180.53,92.63 179.23,93.37 177.94,94.12 176.64,94.87 175.35,95.63 174.06,96.39 172.76,97.16 171.47,97.94 170.17,98.73 168.88,99.52 167.59,100.31 166.29,101.12 165.00,101.93 163.70,102.75 162.41,103.58 161.11,104.42 159.82,105.26 158.53,106.12 157.23,106.98 155.94,107.85 154.64,108.73 153.35,109.62 152.06,110.52 150.76,111.43 149.47,112.34 148.17,113.27 146.88,114.21 145.58,115.16 144.29,116.13 143.00,117.10 141.70,118.09 140.41,119.09 139.11,120.10 137.82,121.12 136.52,122.16 135.23,123.22 133.94,124.28 132.64,125.37 131.35,126.46 130.05,127.58 128.76,128.71 127.47,129.86 126.17,131.02 124.88,132.21 123.58,133.41 122.29,134.63 120.99,135.88 119.70,137.14 118.41,138.43 117.11,139.74 115.82,141.07 114.52,142.43 113.23,143.82 111.94,145.23 110.64,146.67 109.35,148.14 108.05,149.64 106.76,151.17 105.46,152.74 104.17,154.34 102.88,155.98 101.58,157.66 100.29,159.37 98.99,161.14 97.70,162.94 96.40,164.80 95.11,166.71 93.82,168.66 92.52,170.68 91.23,172.76 89.93,174.90 88.64,177.11 87.35,179.39 86.05,181.76 84.76,184.20 83.46,186.74 82.17,189.37 80.87,192.11 79.58,194.97 78.29,197.95 76.99,201.06 75.70,204.33 74.40,207.76 73.11,211.38 71.82,215.20 70.52,219.25 69.23,223.56 67.93,228.17 66.64,233.11 65.34,238.35 64.05,243.90 62.76,249.80 61.58,255.56 60.66,260.34 59.95,264.28 59.40,267.51 58.98,270.15 58.65,272.29 58.39,274.02 58.19,275.41 58.03,276.53 57.91,277.43 57.82,278.14 57.75,278.71 57.69,279.16 57.65,279.51 57.62,279.79 57.59,280.02 57.57,280.19 57.55,280.32 57.54,280.43 57.53,280.51 57.53,280.58 57.52,280.63 57.52,280.67 57.51,280.70 57.51,280.72 57.51,280.74 57.51,280.75 57.50,280.76 57.50,280.77 57.50,280.78 57.50,280.78 57.50,280.79 57.50,280.79 57.50,280.79 57.50,280.79 57.50,280.80 57.50,280.80 57.50,280.80 57.50,280.80 57.50,280.80" fill="#E76BF3" fill-opacity="0.3" stroke="none"/>
<polyline points="57.50,280.80 57.50,280.77 57.50,280.76 57.50,280.76 57.50,280.75 57.50,280.74 57.50,280.72 57.50,280.70 57.50,280.68 57.50,280.66 57.50,280.63 57.50,280.59 57.50,280.55 57.51,280.49 57.51,280.42 57.51,280.35 57.51,280.25 57.52,280.13 57.52,279.99 57.53,279.82 57.53,279.62 57.54,279.38 57.55,279.09 57.57,278.74 57.59,278.32 57.62,277.81 57.65,277.21 57.69,276.50 57.75,275.65 57.82,274.64 57.91,273.44 58.03,272.01 58.19,270.33 58.39,268.35 58.65,266.01 58.98,263.27 59.40,260.05 59.95,256.29 60.66,251.92 61.58,246.84 62.76,240.97 64.05,235.17 65.34,229.87 66.64,224.96 67.93,220.40 69.23,216.12 70.52,212.10 71.82,208.29 73.11,204.68 74.40,201.23 75.70,197.93 76.99,194.77 78.29,191.73 79.58,188.81 80.87,185.98 82.17,183.26 83.46,180.62 84.76,178.06 86.05,175.58 87.35,173.17 88.64,170.82 89.93,168.54 91.23,166.32 92.52,164.16 93.82,162.05 95.11,159.98 96.40,157.97 97.70,156.00 98.99,154.07 100.29,152.19 101.58,150.35 102.88,148.54 104.17,146.77 105.46,145.03 106.76,143.33 108.05,141.66 109.35,140.02 110.64,138.41 111.94,136.83 113.23,135.28 114.52,133.75 115.82,132.25 117.11,130.78 118.41,129.33 119.70,127.90 120.99,126.50 122.29,125.12 123.58,123.76 124.88,122.42 126.17,121.10 127.47,119.80 128.76,118.52 130.05,117.26 131.35,116.02 132.64,114.79 133.94,113.59 135.23,112.40 136.52,111.22 137.82,110.06 139.11,108.92 140.41,107.79 141.70,106.68 143.00,105.59 144.29,104.50 145.58,103.44 146.88,102.38 148.17,101.34 149.47,100.31 150.76,99.30 152.06,98.30 153.35,97.31 154.64,96.33 155.94,95.37 157.23,94.41 158.53,93.47 159.82,92.54 161.11,91.62 162.41,90.72 163.70,89.82 165.00,88.93 166.29,88.06 167.59,87.19 168.88,86.34 170.17,85.49 171.47,84.66 172.76,83.83 174.06,83.01 175.35,82.21 176.64,81.41 177.94,80.62 179.23,79.84 180.53,79.07 181.82,78.31 183.12,77.56 184.41,76.81 185.70,76.08 187.00,75.35 188.29,74.63 189.59,73.92 190.88,73.22 192.17,72.52 193.47,71.83 194.76,71.15 196.06,70.48 197.35,69.82 198.65,69.16 199.94,68.51 201.23,67.87 202.53,67.24 203.82,66.61 205.12,65.99 206.41,65.38 207.71,64.77 209.00,64.17 210.29,63.58 211.59,62.99 212.88,62.41 214.18,61.84 215.47,61.28 216.76,60.72 218.06,60.17 219.35,59.62 220.65,59.08 221.94,58.55 223.24,58.02 224.53,57.50 225.82,56.99 227.12,56.48 228.41,55.98 229.71,55.49 231.00,55.00 232.29,54.51 233.59,54.04 234.88,53.57 236.18,53.10 237.47,52.64 238.77,52.19 240.06,51.74 241.35,51.30 242.65,50.87 243.94,50.44 245.24,50.01 246.53,49.60 247.83,49.19 249.12,48.78 250.41,48.38 251.71,47.99 253.00,47.60 254.30,47.22 255.59,46.84 256.88,46.47 258.18,46.10 259.47,45.74 260.77,45.39 262.06,45.04 263.36,44.70 264.65,44.36 265.94,44.03 267.24,43.71 268.53,43.39 269.83,43.07 271.12,42.77 272.41,42.47 273.71,42.17 275.00,41.88 276.30,41.60 277.59,41.32 278.89,41.05 280.18,40.78 281.47,40.52 282.77,40.27 284.06,40.02 285.36,39.78 286.65,39.55 287.94,39.33 289.24,39.13 290.53,38.94 291.83,38.75 293.12,38.57 294.42,38.39 295.71,38.22 297.00,38.05 298.30,37.89 299.59,37.73 300.89,37.58 302.18,37.44 303.48,37.30 304.77,37.16 306.06,37.04 307.36,36.92 308.65,36.80 309.95,36.69 311.24,36.59 312.53,36.49 313.83,36.40 315.12,36.32 316.42,36.25 317.71,36.18 319.01,36.13 320.30,36.10 320.30,36.10" fill="none" stroke="#F8766D" stroke-width="1.7" stroke-linejoin="round"/>
<polyline points="57.50,280.80 57.50,280.69 57.50,280.67 57.50,280.65 57.50,280.62 57.50,280.59 57.50,280.55 57.50,280.51 57.50,280.46 57.50,280.40 57.50,280.33 57.50,280.24 57.50,280.15 57.51,280.03 57.51,279.90 57.51,279.74 57.51,279.56 57.52,279.34 57.52,279.09 57.53,278.80 57.53,278.45 57.54,278.06 57.55,277.59 57.57,277.05 57.59,276.42 57.62,275.70 57.65,274.85 57.69,273.87 57.75,272.73 57.82,271.42 57.91,269.90 58.03,268.16 58.19,266.14 58.39,263.83 58.65,261.17 58.98,258.12 59.40,254.63 59.95,250.64 60.66,246.10 61.58,240.94 62.76,235.09 64.05,229.41 65.34,224.29 66.64,219.60 67.93,215.25 69.23,211.15 70.52,207.25 71.82,203.54 73.11,199.98 74.40,196.57 75.70,193.28 76.99,190.11 78.29,187.04 79.58,184.07 80.87,181.19 82.17,178.39 83.46,175.67 84.76,173.03 86.05,170.45 87.35,167.94 88.64,165.49 89.93,163.09 91.23,160.75 92.52,158.47 93.82,156.23 95.11,154.04 96.40,151.90 97.70,149.80 98.99,147.74 100.29,145.73 101.58,143.75 102.88,141.81 104.17,139.91 105.46,138.05 106.76,136.21 108.05,134.42 109.35,132.65 110.64,130.91 111.94,129.21 113.23,127.53 114.52,125.88 115.82,124.27 117.11,122.67 118.41,121.11 119.70,119.57 120.99,118.05 122.29,116.56 123.58,115.10 124.88,113.65 126.17,112.23 127.47,110.84 128.76,109.46 130.05,108.11 131.35,106.78 132.64,105.46 133.94,104.17 135.23,102.90 136.52,101.65 137.82,100.42 139.11,99.20 140.41,98.01 141.70,96.83 143.00,95.67 144.29,94.52 145.58,93.40 146.88,92.29 148.17,91.20 149.47,90.12 150.76,89.06 152.06,88.02 153.35,86.99 154.64,85.98 155.94,84.98 157.23,84.00 158.53,83.03 159.82,82.08 161.11,81.14 162.41,80.21 163.70,79.30 165.00,78.41 166.29,77.52 167.59,76.65 168.88,75.79 170.17,74.95 171.47,74.12 172.76,73.30 174.06,72.49 175.35,71.69 176.64,70.91 177.94,70.14 179.23,69.38 180.53,68.64 181.82,67.90 183.12,67.18 184.41,66.46 185.70,65.76 187.00,65.07 188.29,64.39 189.59,63.72 190.88,63.06 192.17,62.42 193.47,61.78 194.76,61.15 196.06,60.53 197.35,59.93 198.65,59.33 199.94,58.74 201.23,58.16 202.53,57.60 203.82,57.04 205.12,56.49 206.41,55.95 207.71,55.42 209.00,54.90 210.29,54.39 211.59,53.88 212.88,53.39 214.18,52.90 215.47,52.43 216.76,51.96 218.06,51.50 219.35,51.05 220.65,50.60 221.94,50.17 223.24,49.74 224.53,49.32 225.82,48.91 227.12,48.51 228.41,48.12 229.71,47.73 231.00,47.35 232.29,46.98 233.59,46.62 234.88,46.26 236.18,45.91 237.47,45.57 238.77,45.23 240.06,44.91 241.35,44.59 242.65,44.27 243.94,43.97 245.24,43.67 246.53,43.38 247.83,43.09 249.12,42.81 250.41,42.54 251.71,42.27 253.00,42.02 254.30,41.76 255.59,41.52 256.88,41.28 258.18,41.04 259.47,40.82 260.77,40.60 262.06,40.38 263.36,40.17 264.65,39.97 265.94,39.77 267.24,39.58 268.53,39.40 269.83,39.22 271.12,39.05 272.41,38.88 273.71,38.72 275.00,38.56 276.30,38.41 277.59,38.26 278.89,38.12 280.18,37.99 281.47,37.86 282.77,37.73 284.06,37.61 285.36,37.50 286.65,37.39 287.94,37.29 289.24,37.21 290.53,37.13 291.83,37.05 293.12,36.98 294.42,36.91 295.71,36.84 297.00,36.78 298.30,36.71 299.59,36.65 300.89,36.60 302.18,36.54 303.48,36.49 304.77,36.44 306.06,36.40 307.36,36.35 308.65,36.31 309.95,36.28 311.24,36.24 312.53,36.21 313.83,36.18 315.12,36.16 316.42,36.14 317.71,36.12 319.01,36.11 320.30,36.10 320.30,36.10" fill="none" stroke="#A3A500" stroke-width="1.7" stroke-linejoin="round"/>
<polyline points="57.50,280.80 57.50,280.80 57.50,280.80 57.50,280.80 57.50,280.80 57.50,280.80 57.50,280.80 57.50,280.80 57.50,280.80 57.50,280.80 57.50,280.80 57.50,280.80 57.50,280.80 57.51,280.79 57.51,280.79 57.51,280.79 57.51,280.78 57.52,280.77 57.52,280.76 57.53,280.75 57.53,280.73 57.54,280.70 57.55,280.67 57.57,280.62 57.59,280.55 57.62,280.46 57.65,280.34 57.69,280.17 57.75,279.95 57.82,279.65 57.91,279.25 58.03,278.72 58.19,278.02 58.39,277.10 58.65,275.89 58.98,274.31 59.40,272.27 59.95,269.64 60.66,266.28 61.58,262.02 62.76,256.67 64.05,250.97 65.34,245.46 66.64,240.13 67.93,235.01 69.23,230.18 70.52,225.61 71.82,221.27 73.11,217.15 74.40,213.23 75.70,209.49 76.99,205.92 78.29,202.50 79.58,199.22 80.87,196.06 82.17,193.03 83.46,190.11 84.76,187.30 86.05,184.58 87.35,181.95 88.64,179.41 89.93,176.95 91.23,174.56 92.52,172.25 93.82,170.00 95.11,167.82 96.40,165.69 97.70,163.63 98.99,161.61 100.29,159.65 101.58,157.74 102.88,155.87 104.17,154.05 105.46,152.27 106.76,150.53 108.05,148.83 109.35,147.17 110.64,145.54 111.94,143.95 113.23,142.39 114.52,140.86 115.82,139.36 117.11,137.88 118.41,136.44 119.70,135.03 120.99,133.64 122.29,132.27 123.58,130.93 124.88,129.61 126.17,128.31 127.47,127.04 128.76,125.79 130.05,124.55 131.35,123.34 132.64,122.15 133.94,120.97 135.23,119.81 136.52,118.67 137.82,117.55 139.11,116.44 140.41,115.34 141.70,114.27 143.00,113.21 144.29,112.16 145.58,111.12 146.88,110.10 148.17,109.10 149.47,108.10 150.76,107.12 152.06,106.15 153.35,105.19 154.64,104.25 155.94,103.31 157.23,102.39 158.53,101.48 159.82,100.58 161.11,99.68 162.41,98.80 163.70,97.93 165.00,97.07 166.29,96.21 167.59,95.37 168.88,94.53 170.17,93.71 171.47,92.89 172.76,92.08 174.06,91.28 175.35,90.48 176.64,89.70 177.94,88.92 179.23,88.15 180.53,87.38 181.82,86.63 183.12,85.88 184.41,85.13 185.70,84.40 187.00,83.67 188.29,82.95 189.59,82.23 190.88,81.52 192.17,80.81 193.47,80.12 194.76,79.42 196.06,78.74 197.35,78.06 198.65,77.38 199.94,76.71 201.23,76.05 202.53,75.39 203.82,74.73 205.12,74.09 206.41,73.44 207.71,72.80 209.00,72.17 210.29,71.54 211.59,70.92 212.88,70.30 214.18,69.68 215.47,69.07 216.76,68.47 218.06,67.87 219.35,67.27 220.65,66.68 221.94,66.09 223.24,65.51 224.53,64.93 225.82,64.35 227.12,63.78 228.41,63.21 229.71,62.65 231.00,62.09 232.29,61.54 233.59,60.99 234.88,60.44 236.18,59.90 237.47,59.36 238.77,58.82 240.06,58.29 241.35,57.76 242.65,57.24 243.94,56.72 245.24,56.20 246.53,55.69 247.83,55.18 249.12,54.67 250.41,54.17 251.71,53.68 253.00,53.18 254.30,52.69 255.59,52.21 256.88,51.73 258.18,51.25 259.47,50.78 260.77,50.31 262.06,49.84 263.36,49.38 264.65,48.92 265.94,48.47 267.24,48.02 268.53,47.57 269.83,47.13 271.12,46.70 272.41,46.27 273.71,45.84 275.00,45.42 276.30,45.00 277.59,44.59 278.89,44.18 280.18,43.78 281.47,43.39 282.77,43.00 284.06,42.61 285.36,42.24 286.65,41.86 287.94,41.52 289.24,41.21 290.53,40.91 291.83,40.61 293.12,40.32 294.42,40.04 295.71,39.76 297.00,39.49 298.30,39.23 299.59,38.98 300.89,38.73 302.18,38.49 303.48,38.26 304.77,38.03 306.06,37.81 307.36,37.60 308.65,37.40 309.95,37.21 311.24,37.03 312.53,36.85 313.83,36.69 315.12,36.54 316.42,36.40 317.71,36.28 319.01,36.17 320.30,36.10 320.30,36.10" fill="none" stroke="#00BF7D" stroke-width="1.7" stroke-linejoin="round"/>
<polyline points="57.50,280.80 57.50,280.79 57.50,280.79 57.50,280.78 57.50,280.78 57.50,280.77 57.50,280.77 57.50,280.76 57.50,280.75 57.50,280.74 57.50,280.72 57.50,280.70 57.50,280.68 57.51,280.65 57.51,280.61 57.51,280.57 57.51,280.51 57.52,280.44 57.52,280.36 57.53,280.26 57.53,280.13 57.54,279.98 57.55,279.79 57.57,279.56 57.59,279.27 57.62,278.93 57.65,278.51 57.69,278.00 57.75,277.37 57.82,276.62 57.91,275.71 58.03,274.61 58.19,273.28 58.39,271.68 58.65,269.77 58.98,267.47 59.40,264.73 59.95,261.48 60.66,257.61 61.58,253.04 62.76,247.67 64.05,242.26 65.34,237.26 66.64,232.58 67.93,228.19 69.23,224.08 70.52,220.20 71.82,216.53 73.11,213.04 74.40,209.71 75.70,206.52 76.99,203.47 78.29,200.54 79.58,197.71 80.87,194.98 82.17,192.35 83.46,189.80 84.76,187.33 86.05,184.93 87.35,182.60 88.64,180.33 89.93,178.13 91.23,175.98 92.52,173.89 93.82,171.84 95.11,169.85 96.40,167.89 97.70,165.99 98.99,164.12 100.29,162.29 101.58,160.50 102.88,158.75 104.17,157.03 105.46,155.34 106.76,153.69 108.05,152.06 109.35,150.46 110.64,148.90 111.94,147.35 113.23,145.84 114.52,144.35 115.82,142.88 117.11,141.44 118.41,140.01 119.70,138.61 120.99,137.24 122.29,135.88 123.58,134.54 124.88,133.22 126.17,131.92 127.47,130.64 128.76,129.37 130.05,128.12 131.35,126.89 132.64,125.67 133.94,124.47 135.23,123.29 136.52,122.12 137.82,120.96 139.11,119.82 140.41,118.70 141.70,117.58 143.00,116.48 144.29,115.39 145.58,114.32 146.88,113.25 148.17,112.20 149.47,111.16 150.76,110.13 152.06,109.12 153.35,108.11 154.64,107.12 155.94,106.13 157.23,105.16 158.53,104.19 159.82,103.24 161.11,102.29 162.41,101.36 163.70,100.43 165.00,99.51 166.29,98.61 167.59,97.71 168.88,96.82 170.17,95.94 171.47,95.06 172.76,94.20 174.06,93.34 175.35,92.49 176.64,91.65 177.94,90.82 179.23,89.99 180.53,89.18 181.82,88.37 183.12,87.56 184.41,86.77 185.70,85.98 187.00,85.20 188.29,84.42 189.59,83.65 190.88,82.89 192.17,82.14 193.47,81.39 194.76,80.65 196.06,79.91 197.35,79.18 198.65,78.46 199.94,77.75 201.23,77.04 202.53,76.33 203.82,75.63 205.12,74.94 206.41,74.25 207.71,73.57 209.00,72.90 210.29,72.23 211.59,71.57 212.88,70.91 214.18,70.25 215.47,69.61 216.76,68.97 218.06,68.33 219.35,67.70 220.65,67.07 221.94,66.45 223.24,65.84 224.53,65.23 225.82,64.62 227.12,64.02 228.41,63.43 229.71,62.84 231.00,62.26 232.29,61.68 233.59,61.10 234.88,60.53 236.18,59.97 237.47,59.41 238.77,58.86 240.06,58.31 241.35,57.76 242.65,57.23 243.94,56.69 245.24,56.16 246.53,55.64 247.83,55.12 249.12,54.60 250.41,54.09 251.71,53.59 253.00,53.09 254.30,52.59 255.59,52.10 256.88,51.62 258.18,51.14 259.47,50.66 260.77,50.20 262.06,49.73 263.36,49.27 264.65,48.82 265.94,48.37 267.24,47.92 268.53,47.49 269.83,47.05 271.12,46.62 272.41,46.20 273.71,45.78 275.00,45.37 276.30,44.97 277.59,44.57 278.89,44.17 280.18,43.79 281.47,43.40 282.77,43.03 284.06,42.66 285.36,42.30 286.65,41.94 287.94,41.60 289.24,41.29 290.53,40.98 291.83,40.68 293.12,40.39 294.42,40.10 295.71,39.82 297.00,39.55 298.30,39.28 299.59,39.02 300.89,38.77 302.18,38.53 303.48,38.29 304.77,38.06 306.06,37.84 307.36,37.63 308.65,37.43 309.95,37.23 311.24,37.04 312.53,36.87 313.83,36.70 315.12,36.55 316.42,36.41 317.71,36.28 319.01,36.17 320.30,36.10 320.30,36.10" fill="none" stroke="#00B0F6" stroke-width="1.7" stroke-linejoin="round"/>
<polyline points="57.50,280.80 57.50,280.80 57.50,280.80 57.50,280.80 57.50,280.79 57.50,280.79 57.50,280.79 57.50,280.79 57.50,280.78 57.50,280.78 57.50,280.77 57.50,280.77 57.50,280.76 57.51,280.74 57.51,280.72 57.51,280.70 57.51,280.67 57.52,280.64 57.52,280.59 57.53,280.53 57.53,280.45 57.54,280.35 57.55,280.23 57.57,280.06 57.59,279.86 57.62,279.60 57.65,279.27 57.69,278.86 57.75,278.34 57.82,277.69 57.91,276.87 58.03,275.86 58.19,274.59 58.39,273.03 58.65,271.10 58.98,268.72 59.40,265.81 59.95,262.27 60.66,257.99 61.58,252.82 62.76,246.65 64.05,240.36 65.34,234.48 66.64,228.96 67.93,223.78 69.23,218.96 70.52,214.48 71.82,210.27 73.11,206.32 74.40,202.59 75.70,199.06 76.99,195.70 78.29,192.51 79.58,189.46 80.87,186.55 82.17,183.76 83.46,181.08 84.76,178.51 86.05,176.03 87.35,173.64 88.64,171.33 89.93,169.10 91.23,166.94 92.52,164.85 93.82,162.82 95.11,160.86 96.40,158.95 97.70,157.09 98.99,155.28 100.29,153.52 101.58,151.80 102.88,150.13 104.17,148.50 105.46,146.90 106.76,145.35 108.05,143.82 109.35,142.33 110.64,140.88 111.94,139.45 113.23,138.05 114.52,136.68 115.82,135.34 117.11,134.02 118.41,132.73 119.70,131.46 120.99,130.22 122.29,129.00 123.58,127.79 124.88,126.61 126.17,125.45 127.47,124.30 128.76,123.18 130.05,122.07 131.35,120.98 132.64,119.91 133.94,118.85 135.23,117.81 136.52,116.78 137.82,115.77 139.11,114.77 140.41,113.78 141.70,112.81 143.00,111.85 144.29,110.90 145.58,109.97 146.88,109.04 148.17,108.13 149.47,107.23 150.76,106.34 152.06,105.46 153.35,104.59 154.64,103.73 155.94,102.88 157.23,102.04 158.53,101.21 159.82,100.39 161.11,99.57 162.41,98.77 163.70,97.97 165.00,97.18 166.29,96.40 167.59,95.62 168.88,94.86 170.17,94.10 171.47,93.34 172.76,92.60 174.06,91.86 175.35,91.13 176.64,90.40 177.94,89.68 179.23,88.97 180.53,88.26 181.82,87.56 183.12,86.87 184.41,86.18 185.70,85.49 187.00,84.81 188.29,84.14 189.59,83.47 190.88,82.81 192.17,82.15 193.47,81.49 194.76,80.85 196.06,80.20 197.35,79.56 198.65,78.93 199.94,78.30 201.23,77.67 202.53,77.05 203.82,76.43 205.12,75.81 206.41,75.20 207.71,74.60 209.00,74.00 210.29,73.40 211.59,72.80 212.88,72.21 214.18,71.62 215.47,71.04 216.76,70.46 218.06,69.88 219.35,69.31 220.65,68.74 221.94,68.17 223.24,67.61 224.53,67.05 225.82,66.49 227.12,65.93 228.41,65.38 229.71,64.83 231.00,64.29 232.29,63.75 233.59,63.21 234.88,62.67 236.18,62.14 237.47,61.60 238.77,61.08 240.06,60.55 241.35,60.03 242.65,59.51 243.94,58.99 245.24,58.47 246.53,57.96 247.83,57.45 249.12,56.94 250.41,56.44 251.71,55.94 253.00,55.44 254.30,54.94 255.59,54.45 256.88,53.96 258.18,53.47 259.47,52.98 260.77,52.50 262.06,52.02 263.36,51.54 264.65,51.06 265.94,50.59 267.24,50.12 268.53,49.65 269.83,49.19 271.12,48.73 272.41,48.27 273.71,47.82 275.00,47.36 276.30,46.92 277.59,46.47 278.89,46.03 280.18,45.59 281.47,45.16 282.77,44.73 284.06,44.30 285.36,43.88 286.65,43.46 287.94,43.06 289.24,42.68 290.53,42.30 291.83,41.94 293.12,41.57 294.42,41.22 295.71,40.88 297.00,40.54 298.30,40.21 299.59,39.88 300.89,39.57 302.18,39.26 303.48,38.96 304.77,38.68 306.06,38.39 307.36,38.12 308.65,37.86 309.95,37.61 311.24,37.37 312.53,37.14 313.83,36.92 315.12,36.72 316.42,36.53 317.71,36.36 319.01,36.21 320.30,36.10 320.30,36.10" fill="none" stroke="#E76BF3" stroke-width="1.7" stroke-linejoin="round"/>
<text x="57.50" y="307.30" font-size="10.3" text-anchor="middle" fill="#4D4D4D" stroke="#4D4D4D" stroke-width="0.3" font-weight="normal" >0.00</text>
<text x="38.20" y="285.00" font-size="10.3" text-anchor="end" fill="#4D4D4D" stroke="#4D4D4D" stroke-width="0.3" font-weight="normal" >0.00</text>
<text x="123.20" y="307.30" font-size="10.3" text-anchor="middle" fill="#4D4D4D" stroke="#4D4D4D" stroke-width="0.3" font-weight="normal" >0.25</text>
<text x="38.20" y="223.82" font-size="10.3" text-anchor="end" fill="#4D4D4D" stroke="#4D4D4D" stroke-width="0.3" font-weight="normal" >0.25</text>
<text x="188.90" y="307.30" font-size="10.3" text-anchor="middle" fill="#4D4D4D" stroke="#4D4D4D" stroke-width="0.3" font-weight="normal" >0.50</text>
<text x="38.20" y="162.65" font-size="10.3" text-anchor="end" fill="#4D4D4D" stroke="#4D4D4D" stroke-width="0.3" font-weight="normal" >0.50</text>
<text x="254.60" y="307.30" font-size="10.3" text-anchor="middle" fill="#4D4D4D" stroke="#4D4D4D" stroke-width="0.3" font-weight="normal" >0.75</text>
<text x="38.20" y="101.48" font-size="10.3" text-anchor="end" fill="#4D4D4D" stroke="#4D4D4D" stroke-width="0.3" font-weight="normal" >0.75</text>
<text x="320.30" y="307.30" font-size="10.3" text-anchor="middle" fill="#4D4D4D" stroke="#4D4D4D" stroke-width="0.3" font-weight="normal" >1.00</text>
<text x="38.20" y="40.30" font-size="10.3" text-anchor="end" fill="#4D4D4D" stroke="#4D4D4D" stroke-width="0.3" font-weight="normal" >1.00</text>
<text x="188.90" y="322.40" font-size="13.1" text-anchor="middle" fill="#000" stroke="#000" stroke-width="0.3" font-weight="normal" >1 – Specificity</text>
<text x="10.60" y="158.45" font-size="13.1" text-anchor="middle" fill="#000" stroke="#000" stroke-width="0.3" font-weight="normal" transform="rotate(-90 10.60 158.45)">Sensitivity</text>
<text x="44.00" y="14.00" font-size="15.4" text-anchor="start" fill="#000" stroke="#000" stroke-width="0.3" font-weight="normal" >Max pain &gt; 4 (moderate)</text>
<text x="1.80" y="14.00" font-size="16.5" text-anchor="start" fill="#000" stroke="#000" stroke-width="0.15" font-weight="bold" >A</text>
<text x="320.65" y="169.10" font-size="12.9" text-anchor="end" fill="#000" stroke="#000" stroke-width="0.3" font-weight="normal" >Postop Day</text>
<rect x="254.60" y="178.00" width="19.4" height="18.8" fill="#F8766D" fill-opacity="0.3"/>
<line x1="255.80" y1="187.40" x2="272.80" y2="187.40" stroke="#F8766D" stroke-width="1.4" />
<text x="281.60" y="191.70" font-size="10.3" text-anchor="start" fill="#000" stroke="#000" stroke-width="0.3" font-weight="normal" >Day 0</text>
<rect x="254.60" y="198.75" width="19.4" height="18.8" fill="#A3A500" fill-opacity="0.3"/>
<line x1="255.80" y1="208.15" x2="272.80" y2="208.15" stroke="#A3A500" stroke-width="1.4" />
<text x="281.60" y="212.45" font-size="10.3" text-anchor="start" fill="#000" stroke="#000" stroke-width="0.3" font-weight="normal" >Day 1</text>
<rect x="254.60" y="219.50" width="19.4" height="18.8" fill="#00BF7D" fill-opacity="0.3"/>
<line x1="255.80" y1="228.90" x2="272.80" y2="228.90" stroke="#00BF7D" stroke-width="1.4" />
<text x="281.60" y="233.20" font-size="10.3" text-anchor="start" fill="#000" stroke="#000" stroke-width="0.3" font-weight="normal" >Day 2</text>
<rect x="254.60" y="240.25" width="19.4" height="18.8" fill="#00B0F6" fill-opacity="0.3"/>
<line x1="255.80" y1="249.65" x2="272.80" y2="249.65" stroke="#00B0F6" stroke-width="1.4" />
<text x="281.60" y="253.95" font-size="10.3" text-anchor="start" fill="#000" stroke="#000" stroke-width="0.3" font-weight="normal" >Day 3</text>
<rect x="254.60" y="261.00" width="19.4" height="18.8" fill="#E76BF3" fill-opacity="0.3"/>
<line x1="255.80" y1="270.40" x2="272.80" y2="270.40" stroke="#E76BF3" stroke-width="1.4" />
<text x="281.60" y="274.70" font-size="10.3" text-anchor="start" fill="#000" stroke="#000" stroke-width="0.3" font-weight="normal" >Day 4</text>
<line x1="435.45" y1="23.90" x2="435.45" y2="293.00" stroke="#EBEBEB" stroke-width="0.8" />
<line x1="389.45" y1="250.21" x2="678.55" y2="250.21" stroke="#EBEBEB" stroke-width="0.8" />
<line x1="501.15" y1="23.90" x2="501.15" y2="293.00" stroke="#EBEBEB" stroke-width="0.8" />
<line x1="389.45" y1="189.04" x2="678.55" y2="189.04" stroke="#EBEBEB" stroke-width="0.8" />
<line x1="566.85" y1="23.90" x2="566.85" y2="293.00" stroke="#EBEBEB" stroke-width="0.8" />
<line x1="389.45" y1="127.86" x2="678.55" y2="127.86" stroke="#EBEBEB" stroke-width="0.8" />
<line x1="632.55" y1="23.90" x2="632.55" y2="293.00" stroke="#EBEBEB" stroke-width="0.8" />
<line x1="389.45" y1="66.69" x2="678.55" y2="66.69" stroke="#EBEBEB" stroke-width="0.8" />
<line x1="402.60" y1="23.90" x2="402.60" y2="293.00" stroke="#EBEBEB" stroke-width="1.6" />
<line x1="389.45" y1="280.80" x2="678.55" y2="280.80" stroke="#EBEBEB" stroke-width="1.6" />
<line x1="468.30" y1="23.90" x2="468.30" y2="293.00" stroke="#EBEBEB" stroke-width="1.6" />
<line x1="389.45" y1="219.62" x2="678.55" y2="219.62" stroke="#EBEBEB" stroke-width="1.6" />
<line x1="534.00" y1="23.90" x2="534.00" y2="293.00" stroke="#EBEBEB" stroke-width="1.6" />
<line x1="389.45" y1="158.45" x2="678.55" y2="158.45" stroke="#EBEBEB" stroke-width="1.6" />
<line x1="599.70" y1="23.90" x2="599.70" y2="293.00" stroke="#EBEBEB" stroke-width="1.6" />
<line x1="389.45" y1="97.28" x2="678.55" y2="97.28" stroke="#EBEBEB" stroke-width="1.6" />
<line x1="665.40" y1="23.90" x2="665.40" y2="293.00" stroke="#EBEBEB" stroke-width="1.6" />
<line x1="389.45" y1="36.10" x2="678.55" y2="36.10" stroke="#EBEBEB" stroke-width="1.6" />
<polygon points="402.60,280.80 402.60,280.76 402.60,280.75 402.60,280.74 402.60,280.73 402.60,280.71 402.60,280.69 402.60,280.67 402.60,280.64 402.60,280.61 402.60,280.57 402.60,280.52 402.60,280.46 402.61,280.39 402.61,280.31 402.61,280.21 402.61,280.09 402.62,279.95 402.62,279.78 402.63,279.58 402.63,279.34 402.64,279.05 402.65,278.70 402.67,278.30 402.69,277.81 402.72,277.23 402.75,276.55 402.79,275.74 402.85,274.79 402.92,273.66 403.01,272.33 403.13,270.77 403.29,268.94 403.49,266.79 403.75,264.28 404.08,261.36 404.50,257.95 405.05,254.01 405.76,249.44 406.68,244.18 407.86,238.14 409.15,232.19 410.44,226.80 411.74,221.83 413.03,217.22 414.33,212.93 415.62,208.92 416.92,205.15 418.21,201.58 419.50,198.20 420.80,194.97 422.09,191.89 423.39,188.93 424.68,186.10 425.97,183.37 427.27,180.73 428.56,178.19 429.86,175.73 431.15,173.35 432.45,171.04 433.74,168.80 435.03,166.62 436.33,164.50 437.62,162.43 438.92,160.42 440.21,158.46 441.50,156.54 442.80,154.67 444.09,152.84 445.39,151.05 446.68,149.30 447.98,147.58 449.27,145.90 450.56,144.25 451.86,142.64 453.15,141.05 454.45,139.50 455.74,137.97 457.04,136.47 458.33,134.99 459.62,133.54 460.92,132.12 462.21,130.72 463.51,129.34 464.80,127.98 466.09,126.65 467.39,125.33 468.68,124.04 469.98,122.76 471.27,121.50 472.57,120.26 473.86,119.04 475.15,117.84 476.45,116.65 477.74,115.48 479.04,114.32 480.33,113.18 481.62,112.06 482.92,110.94 484.21,109.85 485.51,108.77 486.80,107.70 488.10,106.64 489.39,105.60 490.68,104.57 491.98,103.55 493.27,102.54 494.57,101.55 495.86,100.57 497.16,99.59 498.45,98.63 499.74,97.68 501.04,96.75 502.33,95.82 503.63,94.90 504.92,93.99 506.21,93.10 507.51,92.21 508.80,91.33 510.10,90.46 511.39,89.60 512.69,88.75 513.98,87.91 515.27,87.08 516.57,86.25 517.86,85.44 519.16,84.63 520.45,83.83 521.74,83.04 523.04,82.26 524.33,81.48 525.63,80.72 526.92,79.96 528.22,79.21 529.51,78.46 530.80,77.73 532.10,77.00 533.39,76.27 534.69,75.56 535.98,74.85 537.27,74.15 538.57,73.46 539.86,72.77 541.16,72.09 542.45,71.42 543.75,70.75 545.04,70.09 546.33,69.44 547.63,68.79 548.92,68.15 550.22,67.52 551.51,66.89 552.81,66.27 554.10,65.66 555.39,65.05 556.69,64.44 557.98,63.85 559.28,63.26 560.57,62.67 561.86,62.10 563.16,61.52 564.45,60.96 565.75,60.40 567.04,59.84 568.34,59.29 569.63,58.75 570.92,58.21 572.22,57.68 573.51,57.15 574.81,56.63 576.10,56.12 577.39,55.61 578.69,55.11 579.98,54.61 581.28,54.12 582.57,53.63 583.87,53.15 585.16,52.68 586.45,52.21 587.75,51.75 589.04,51.29 590.34,50.84 591.63,50.39 592.93,49.95 594.22,49.52 595.51,49.09 596.81,48.66 598.10,48.25 599.40,47.84 600.69,47.43 601.98,47.03 603.28,46.64 604.57,46.25 605.87,45.86 607.16,45.49 608.46,45.12 609.75,44.75 611.04,44.39 612.34,44.04 613.63,43.70 614.93,43.36 616.22,43.02 617.51,42.70 618.81,42.37 620.10,42.06 621.40,41.75 622.69,41.45 623.99,41.16 625.28,40.87 626.57,40.59 627.87,40.31 629.16,40.05 630.46,39.79 631.75,39.53 633.04,39.31 634.34,39.11 635.63,38.92 636.93,38.73 638.22,38.55 639.52,38.37 640.81,38.20 642.10,38.04 643.40,37.88 644.69,37.72 645.99,37.57 647.28,37.43 648.58,37.29 649.87,37.16 651.16,37.03 652.46,36.91 653.75,36.79 655.05,36.69 656.34,36.58 657.63,36.49 658.93,36.40 660.22,36.32 661.52,36.25 662.81,36.18 664.11,36.13 665.40,36.10 665.40,36.10 665.40,36.10 665.40,36.10 664.11,36.15 662.81,36.22 661.52,36.30 660.22,36.40 658.93,36.50 657.63,36.62 656.34,36.74 655.05,36.87 653.75,37.01 652.46,37.16 651.16,37.31 649.87,37.47 648.58,37.64 647.28,37.81 645.99,37.99 644.69,38.18 643.40,38.37 642.10,38.57 640.81,38.77 639.52,38.99 638.22,39.20 636.93,39.42 635.63,39.65 634.34,39.89 633.04,40.13 631.75,40.40 630.46,40.71 629.16,41.02 627.87,41.35 626.57,41.68 625.28,42.01 623.99,42.36 622.69,42.71 621.40,43.07 620.10,43.44 618.81,43.81 617.51,44.19 616.22,44.58 614.93,44.97 613.63,45.37 612.34,45.78 611.04,46.19 609.75,46.61 608.46,47.04 607.16,47.47 605.87,47.91 604.57,48.36 603.28,48.81 601.98,49.27 600.69,49.73 599.40,50.20 598.10,50.68 596.81,51.16 595.51,51.65 594.22,52.14 592.93,52.64 591.63,53.15 590.34,53.66 589.04,54.18 587.75,54.70 586.45,55.23 585.16,55.76 583.87,56.30 582.57,56.85 581.28,57.40 579.98,57.96 578.69,58.52 577.39,59.09 576.10,59.66 574.81,60.24 573.51,60.83 572.22,61.42 570.92,62.02 569.63,62.62 568.34,63.23 567.04,63.85 565.75,64.47 564.45,65.09 563.16,65.72 561.86,66.36 560.57,67.01 559.28,67.66 557.98,68.31 556.69,68.98 555.39,69.64 554.10,70.32 552.81,71.00 551.51,71.68 550.22,72.38 548.92,73.08 547.63,73.78 546.33,74.49 545.04,75.21 543.75,75.93 542.45,76.66 541.16,77.40 539.86,78.14 538.57,78.89 537.27,79.65 535.98,80.42 534.69,81.19 533.39,81.96 532.10,82.75 530.80,83.54 529.51,84.34 528.22,85.14 526.92,85.96 525.63,86.78 524.33,87.61 523.04,88.44 521.74,89.28 520.45,90.14 519.16,90.99 517.86,91.86 516.57,92.74 515.27,93.62 513.98,94.51 512.69,95.41 511.39,96.32 510.10,97.24 508.80,98.17 507.51,99.10 506.21,100.05 504.92,101.00 503.63,101.96 502.33,102.94 501.04,103.92 499.74,104.91 498.45,105.92 497.16,106.93 495.86,107.96 494.57,108.99 493.27,110.04 491.98,111.10 490.68,112.16 489.39,113.25 488.10,114.34 486.80,115.44 485.51,116.56 484.21,117.69 482.92,118.84 481.62,119.99 480.33,121.17 479.04,122.35 477.74,123.55 476.45,124.77 475.15,126.00 473.86,127.24 472.57,128.51 471.27,129.78 469.98,131.08 468.68,132.39 467.39,133.73 466.09,135.08 464.80,136.45 463.51,137.84 462.21,139.25 460.92,140.68 459.62,142.13 458.33,143.61 457.04,145.11 455.74,146.63 454.45,148.18 453.15,149.76 451.86,151.36 450.56,152.99 449.27,154.65 447.98,156.34 446.68,158.07 445.39,159.83 444.09,161.62 442.80,163.45 441.50,165.32 440.21,167.23 438.92,169.19 437.62,171.18 436.33,173.23 435.03,175.33 433.74,177.48 432.45,179.69 431.15,181.96 429.86,184.30 428.56,186.71 427.27,189.19 425.97,191.75 424.68,194.41 423.39,197.16 422.09,200.01 420.80,202.98 419.50,206.08 418.21,209.33 416.92,212.73 415.62,216.32 414.33,220.11 413.03,224.15 411.74,228.47 410.44,233.10 409.15,238.10 407.86,243.56 406.68,249.07 405.76,253.82 405.05,257.91 404.50,261.41 404.08,264.41 403.75,266.97 403.49,269.14 403.29,270.99 403.13,272.56 403.01,273.88 402.92,275.00 402.85,275.95 402.79,276.74 402.75,277.41 402.72,277.97 402.69,278.44 402.67,278.84 402.65,279.17 402.64,279.44 402.63,279.67 402.63,279.86 402.62,280.02 402.62,280.16 402.61,280.27 402.61,280.36 402.61,280.43 402.61,280.50 402.60,280.55 402.60,280.59 402.60,280.63 402.60,280.66 402.60,280.68 402.60,280.70 402.60,280.72 402.60,280.74 402.60,280.75 402.60,280.76 402.60,280.76 402.60,280.77 402.60,280.80" fill="#F8766D" fill-opacity="0.3" stroke="none"/>
<polygon points="402.60,280.80 402.60,280.66 402.60,280.64 402.60,280.61 402.60,280.58 402.60,280.54 402.60,280.49 402.60,280.44 402.60,280.38 402.60,280.31 402.60,280.23 402.60,280.13 402.60,280.02 402.61,279.89 402.61,279.74 402.61,279.57 402.61,279.37 402.62,279.13 402.62,278.86 402.63,278.54 402.63,278.18 402.64,277.75 402.65,277.26 402.67,276.69 402.69,276.04 402.72,275.28 402.75,274.41 402.79,273.40 402.85,272.24 402.92,270.91 403.01,269.38 403.13,267.62 403.29,265.61 403.49,263.31 403.75,260.68 404.08,257.67 404.50,254.25 405.05,250.35 405.76,245.93 406.68,240.92 407.86,235.26 409.15,229.76 410.44,224.82 411.74,220.31 413.03,216.13 414.33,212.19 415.62,208.47 416.92,204.93 418.21,201.55 419.50,198.31 420.80,195.19 422.09,192.19 423.39,189.29 424.68,186.48 425.97,183.77 427.27,181.13 428.56,178.56 429.86,176.06 431.15,173.63 432.45,171.26 433.74,168.95 435.03,166.69 436.33,164.48 437.62,162.32 438.92,160.20 440.21,158.13 441.50,156.11 442.80,154.12 444.09,152.17 445.39,150.26 446.68,148.38 447.98,146.54 449.27,144.73 450.56,142.95 451.86,141.20 453.15,139.48 454.45,137.79 455.74,136.13 457.04,134.50 458.33,132.89 459.62,131.30 460.92,129.74 462.21,128.21 463.51,126.70 464.80,125.21 466.09,123.74 467.39,122.30 468.68,120.88 469.98,119.47 471.27,118.09 472.57,116.73 473.86,115.38 475.15,114.06 476.45,112.75 477.74,111.46 479.04,110.19 480.33,108.93 481.62,107.70 482.92,106.48 484.21,105.27 485.51,104.08 486.80,102.91 488.10,101.76 489.39,100.61 490.68,99.49 491.98,98.38 493.27,97.28 494.57,96.20 495.86,95.13 497.16,94.07 498.45,93.03 499.74,92.00 501.04,90.99 502.33,89.99 503.63,89.00 504.92,88.02 506.21,87.06 507.51,86.11 508.80,85.17 510.10,84.24 511.39,83.33 512.69,82.42 513.98,81.53 515.27,80.65 516.57,79.78 517.86,78.92 519.16,78.08 520.45,77.24 521.74,76.42 523.04,75.60 524.33,74.80 525.63,74.00 526.92,73.22 528.22,72.45 529.51,71.69 530.80,70.93 532.10,70.19 533.39,69.46 534.69,68.74 535.98,68.02 537.27,67.32 538.57,66.63 539.86,65.94 541.16,65.27 542.45,64.60 543.75,63.95 545.04,63.30 546.33,62.66 547.63,62.03 548.92,61.41 550.22,60.80 551.51,60.20 552.81,59.60 554.10,59.02 555.39,58.44 556.69,57.87 557.98,57.31 559.28,56.76 560.57,56.22 561.86,55.68 563.16,55.15 564.45,54.63 565.75,54.12 567.04,53.62 568.34,53.13 569.63,52.64 570.92,52.16 572.22,51.69 573.51,51.23 574.81,50.77 576.10,50.33 577.39,49.89 578.69,49.45 579.98,49.03 581.28,48.61 582.57,48.20 583.87,47.80 585.16,47.41 586.45,47.02 587.75,46.64 589.04,46.27 590.34,45.90 591.63,45.54 592.93,45.19 594.22,44.85 595.51,44.51 596.81,44.18 598.10,43.86 599.40,43.54 600.69,43.24 601.98,42.93 603.28,42.64 604.57,42.35 605.87,42.07 607.16,41.80 608.46,41.53 609.75,41.27 611.04,41.02 612.34,40.77 613.63,40.53 614.93,40.30 616.22,40.07 617.51,39.85 618.81,39.64 620.10,39.43 621.40,39.23 622.69,39.04 623.99,38.85 625.28,38.67 626.57,38.49 627.87,38.33 629.16,38.16 630.46,38.01 631.75,37.86 633.04,37.73 634.34,37.62 635.63,37.52 636.93,37.41 638.22,37.32 639.52,37.22 640.81,37.13 642.10,37.04 643.40,36.96 644.69,36.88 645.99,36.80 647.28,36.73 648.58,36.66 649.87,36.59 651.16,36.53 652.46,36.47 653.75,36.41 655.05,36.36 656.34,36.31 657.63,36.27 658.93,36.23 660.22,36.19 661.52,36.16 662.81,36.13 664.11,36.11 665.40,36.10 665.40,36.10 665.40,36.10 665.40,36.10 664.11,36.12 662.81,36.15 661.52,36.19 660.22,36.23 658.93,36.28 657.63,36.33 656.34,36.39 655.05,36.46 653.75,36.53 652.46,36.61 651.16,36.69 649.87,36.77 648.58,36.86 647.28,36.95 645.99,37.05 644.69,37.15 643.40,37.25 642.10,37.36 640.81,37.48 639.52,37.60 638.22,37.72 636.93,37.84 635.63,37.97 634.34,38.11 633.04,38.25 631.75,38.41 630.46,38.60 629.16,38.80 627.87,39.00 626.57,39.21 625.28,39.43 623.99,39.66 622.69,39.89 621.40,40.13 620.10,40.38 618.81,40.64 617.51,40.90 616.22,41.17 614.93,41.45 613.63,41.74 612.34,42.03 611.04,42.33 609.75,42.64 608.46,42.96 607.16,43.29 605.87,43.62 604.57,43.96 603.28,44.30 601.98,44.66 600.69,45.02 599.40,45.39 598.10,45.77 596.81,46.16 595.51,46.55 594.22,46.95 592.93,47.36 591.63,47.78 590.34,48.20 589.04,48.64 587.75,49.08 586.45,49.52 585.16,49.98 583.87,50.45 582.57,50.92 581.28,51.40 579.98,51.89 578.69,52.38 577.39,52.89 576.10,53.40 574.81,53.92 573.51,54.45 572.22,54.99 570.92,55.53 569.63,56.08 568.34,56.65 567.04,57.22 565.75,57.79 564.45,58.38 563.16,58.98 561.86,59.58 560.57,60.19 559.28,60.81 557.98,61.44 556.69,62.08 555.39,62.73 554.10,63.38 552.81,64.05 551.51,64.72 550.22,65.40 548.92,66.09 547.63,66.79 546.33,67.50 545.04,68.22 543.75,68.95 542.45,69.68 541.16,70.43 539.86,71.18 538.57,71.95 537.27,72.72 535.98,73.51 534.69,74.30 533.39,75.10 532.10,75.92 530.80,76.74 529.51,77.57 528.22,78.41 526.92,79.27 525.63,80.13 524.33,81.00 523.04,81.89 521.74,82.78 520.45,83.68 519.16,84.60 517.86,85.52 516.57,86.46 515.27,87.41 513.98,88.37 512.69,89.34 511.39,90.32 510.10,91.31 508.80,92.31 507.51,93.33 506.21,94.36 504.92,95.40 503.63,96.45 502.33,97.51 501.04,98.59 499.74,99.67 498.45,100.78 497.16,101.89 495.86,103.02 494.57,104.16 493.27,105.31 491.98,106.48 490.68,107.66 489.39,108.85 488.10,110.06 486.80,111.29 485.51,112.52 484.21,113.78 482.92,115.04 481.62,116.33 480.33,117.63 479.04,118.94 477.74,120.27 476.45,121.62 475.15,122.98 473.86,124.37 472.57,125.76 471.27,127.18 469.98,128.62 468.68,130.07 467.39,131.54 466.09,133.03 464.80,134.55 463.51,136.08 462.21,137.63 460.92,139.21 459.62,140.80 458.33,142.42 457.04,144.06 455.74,145.73 454.45,147.42 453.15,149.14 451.86,150.88 450.56,152.65 449.27,154.44 447.98,156.27 446.68,158.12 445.39,160.01 444.09,161.92 442.80,163.88 441.50,165.86 440.21,167.88 438.92,169.94 437.62,172.04 436.33,174.18 435.03,176.36 433.74,178.58 432.45,180.86 431.15,183.18 429.86,185.56 428.56,188.00 427.27,190.50 425.97,193.06 424.68,195.69 423.39,198.40 422.09,201.19 420.80,204.07 419.50,207.05 418.21,210.13 416.92,213.34 415.62,216.69 414.33,220.19 413.03,223.87 411.74,227.77 410.44,231.95 409.15,236.50 407.86,241.52 406.68,246.65 405.76,251.15 405.05,255.09 404.50,258.53 404.08,261.53 403.75,264.14 403.49,266.41 403.29,268.38 403.13,270.09 403.01,271.57 402.92,272.86 402.85,273.97 402.79,274.93 402.75,275.75 402.72,276.47 402.69,277.08 402.67,277.61 402.65,278.07 402.64,278.46 402.63,278.79 402.63,279.08 402.62,279.33 402.62,279.54 402.61,279.73 402.61,279.88 402.61,280.02 402.61,280.13 402.60,280.23 402.60,280.31 402.60,280.38 402.60,280.45 402.60,280.50 402.60,280.54 402.60,280.58 402.60,280.61 402.60,280.64 402.60,280.67 402.60,280.69 402.60,280.70 402.60,280.80" fill="#A3A500" fill-opacity="0.3" stroke="none"/>
<polygon points="402.60,280.80 402.60,280.80 402.60,280.80 402.60,280.80 402.60,280.80 402.60,280.80 402.60,280.80 402.60,280.80 402.60,280.80 402.60,280.80 402.60,280.80 402.60,280.80 402.60,280.79 402.61,280.79 402.61,280.79 402.61,280.78 402.61,280.78 402.62,280.77 402.62,280.75 402.63,280.74 402.63,280.71 402.64,280.68 402.65,280.64 402.67,280.58 402.69,280.50 402.72,280.39 402.75,280.25 402.79,280.05 402.85,279.79 402.92,279.45 403.01,279.00 403.13,278.40 403.29,277.61 403.49,276.58 403.75,275.24 404.08,273.50 404.50,271.27 405.05,268.42 405.76,264.81 406.68,260.26 407.86,254.59 409.15,248.59 410.44,242.83 411.74,237.29 413.03,232.00 414.33,227.05 415.62,222.41 416.92,218.04 418.21,213.92 419.50,210.02 420.80,206.32 422.09,202.80 423.39,199.45 424.68,196.25 425.97,193.19 427.27,190.25 428.56,187.44 429.86,184.73 431.15,182.13 432.45,179.62 433.74,177.19 435.03,174.85 436.33,172.58 437.62,170.39 438.92,168.26 440.21,166.20 441.50,164.19 442.80,162.24 444.09,160.35 445.39,158.50 446.68,156.70 447.98,154.95 449.27,153.24 450.56,151.57 451.86,149.93 453.15,148.34 454.45,146.78 455.74,145.25 457.04,143.75 458.33,142.29 459.62,140.85 460.92,139.44 462.21,138.06 463.51,136.70 464.80,135.37 466.09,134.06 467.39,132.78 468.68,131.51 469.98,130.27 471.27,129.05 472.57,127.84 473.86,126.66 475.15,125.49 476.45,124.34 477.74,123.21 479.04,122.09 480.33,120.99 481.62,119.90 482.92,118.83 484.21,117.77 485.51,116.73 486.80,115.70 488.10,114.68 489.39,113.67 490.68,112.68 491.98,111.70 493.27,110.72 494.57,109.76 495.86,108.81 497.16,107.88 498.45,106.95 499.74,106.03 501.04,105.12 502.33,104.22 503.63,103.32 504.92,102.44 506.21,101.57 507.51,100.70 508.80,99.84 510.10,98.99 511.39,98.15 512.69,97.31 513.98,96.48 515.27,95.66 516.57,94.84 517.86,94.03 519.16,93.23 520.45,92.44 521.74,91.65 523.04,90.86 524.33,90.09 525.63,89.32 526.92,88.55 528.22,87.79 529.51,87.03 530.80,86.28 532.10,85.54 533.39,84.80 534.69,84.07 535.98,83.34 537.27,82.61 538.57,81.89 539.86,81.18 541.16,80.47 542.45,79.76 543.75,79.06 545.04,78.36 546.33,77.66 547.63,76.97 548.92,76.29 550.22,75.61 551.51,74.93 552.81,74.26 554.10,73.59 555.39,72.92 556.69,72.26 557.98,71.60 559.28,70.95 560.57,70.29 561.86,69.65 563.16,69.00 564.45,68.36 565.75,67.73 567.04,67.09 568.34,66.46 569.63,65.84 570.92,65.21 572.22,64.59 573.51,63.98 574.81,63.37 576.10,62.76 577.39,62.15 578.69,61.55 579.98,60.95 581.28,60.36 582.57,59.77 583.87,59.18 585.16,58.59 586.45,58.01 587.75,57.44 589.04,56.86 590.34,56.29 591.63,55.73 592.93,55.17 594.22,54.61 595.51,54.06 596.81,53.51 598.10,52.96 599.40,52.42 600.69,51.89 601.98,51.35 603.28,50.83 604.57,50.30 605.87,49.79 607.16,49.27 608.46,48.77 609.75,48.26 611.04,47.77 612.34,47.28 613.63,46.79 614.93,46.31 616.22,45.84 617.51,45.38 618.81,44.92 620.10,44.46 621.40,44.02 622.69,43.58 623.99,43.15 625.28,42.73 626.57,42.32 627.87,41.91 629.16,41.52 630.46,41.13 631.75,40.76 633.04,40.44 634.34,40.18 635.63,39.93 636.93,39.69 638.22,39.45 639.52,39.22 640.81,38.99 642.10,38.77 643.40,38.56 644.69,38.35 645.99,38.15 647.28,37.96 648.58,37.77 649.87,37.59 651.16,37.42 652.46,37.25 653.75,37.10 655.05,36.94 656.34,36.80 657.63,36.67 658.93,36.54 660.22,36.43 661.52,36.32 662.81,36.23 664.11,36.15 665.40,36.10 665.40,36.10 665.40,36.10 665.40,36.10 664.11,36.18 662.81,36.29 661.52,36.42 660.22,36.57 658.93,36.72 657.63,36.90 656.34,37.08 655.05,37.27 653.75,37.47 652.46,37.68 651.16,37.90 649.87,38.13 648.58,38.36 647.28,38.61 645.99,38.86 644.69,39.11 643.40,39.38 642.10,39.65 640.81,39.93 639.52,40.22 638.22,40.51 636.93,40.81 635.63,41.12 634.34,41.43 633.04,41.75 631.75,42.16 630.46,42.63 629.16,43.11 627.87,43.59 626.57,44.09 625.28,44.60 623.99,45.12 622.69,45.64 621.40,46.18 620.10,46.72 618.81,47.27 617.51,47.82 616.22,48.38 614.93,48.95 613.63,49.53 612.34,50.11 611.04,50.70 609.75,51.29 608.46,51.89 607.16,52.49 605.87,53.10 604.57,53.71 603.28,54.32 601.98,54.95 600.69,55.57 599.40,56.20 598.10,56.83 596.81,57.47 595.51,58.11 594.22,58.76 592.93,59.40 591.63,60.06 590.34,60.71 589.04,61.37 587.75,62.03 586.45,62.70 585.16,63.36 583.87,64.04 582.57,64.71 581.28,65.39 579.98,66.07 578.69,66.75 577.39,67.44 576.10,68.13 574.81,68.82 573.51,69.52 572.22,70.22 570.92,70.92 569.63,71.62 568.34,72.33 567.04,73.04 565.75,73.75 564.45,74.47 563.16,75.19 561.86,75.91 560.57,76.64 559.28,77.36 557.98,78.10 556.69,78.83 555.39,79.57 554.10,80.31 552.81,81.05 551.51,81.80 550.22,82.55 548.92,83.31 547.63,84.07 546.33,84.83 545.04,85.59 543.75,86.36 542.45,87.14 541.16,87.91 539.86,88.69 538.57,89.48 537.27,90.27 535.98,91.06 534.69,91.86 533.39,92.66 532.10,93.46 530.80,94.28 529.51,95.09 528.22,95.91 526.92,96.74 525.63,97.57 524.33,98.40 523.04,99.24 521.74,100.09 520.45,100.94 519.16,101.80 517.86,102.66 516.57,103.53 515.27,104.40 513.98,105.28 512.69,106.17 511.39,107.07 510.10,107.97 508.80,108.88 507.51,109.79 506.21,110.71 504.92,111.65 503.63,112.58 502.33,113.53 501.04,114.49 499.74,115.45 498.45,116.42 497.16,117.40 495.86,118.39 494.57,119.39 493.27,120.40 491.98,121.42 490.68,122.45 489.39,123.50 488.10,124.55 486.80,125.61 485.51,126.69 484.21,127.78 482.92,128.88 481.62,129.99 480.33,131.12 479.04,132.27 477.74,133.42 476.45,134.59 475.15,135.78 473.86,136.99 472.57,138.21 471.27,139.45 469.98,140.70 468.68,141.98 467.39,143.27 466.09,144.59 464.80,145.92 463.51,147.28 462.21,148.66 460.92,150.07 459.62,151.50 458.33,152.95 457.04,154.44 455.74,155.95 454.45,157.49 453.15,159.06 451.86,160.66 450.56,162.30 449.27,163.97 447.98,165.68 446.68,167.43 445.39,169.22 444.09,171.05 442.80,172.93 441.50,174.86 440.21,176.83 438.92,178.87 437.62,180.96 436.33,183.10 435.03,185.32 433.74,187.60 432.45,189.96 431.15,192.39 429.86,194.91 428.56,197.51 427.27,200.21 425.97,203.02 424.68,205.94 423.39,208.98 422.09,212.15 420.80,215.46 419.50,218.92 418.21,222.56 416.92,226.39 415.62,230.42 414.33,234.67 413.03,239.17 411.74,243.94 410.44,248.90 409.15,253.99 407.86,259.22 406.68,264.10 405.76,267.96 405.05,270.98 404.50,273.33 404.08,275.14 403.75,276.54 403.49,277.60 403.29,278.41 403.13,279.02 403.01,279.48 402.92,279.82 402.85,280.08 402.79,280.27 402.75,280.41 402.72,280.51 402.69,280.59 402.67,280.65 402.65,280.69 402.64,280.72 402.63,280.74 402.63,280.76 402.62,280.77 402.62,280.78 402.61,280.78 402.61,280.79 402.61,280.79 402.61,280.79 402.60,280.80 402.60,280.80 402.60,280.80 402.60,280.80 402.60,280.80 402.60,280.80 402.60,280.80 402.60,280.80 402.60,280.80 402.60,280.80 402.60,280.80 402.60,280.80 402.60,280.80" fill="#00BF7D" fill-opacity="0.3" stroke="none"/>
<polygon points="402.60,280.80 402.60,280.80 402.60,280.80 402.60,280.79 402.60,280.79 402.60,280.79 402.60,280.79 402.60,280.78 402.60,280.78 402.60,280.77 402.60,280.77 402.60,280.76 402.60,280.75 402.61,280.73 402.61,280.71 402.61,280.68 402.61,280.65 402.62,280.61 402.62,280.55 402.63,280.48 402.63,280.39 402.64,280.28 402.65,280.14 402.67,279.95 402.69,279.72 402.72,279.44 402.75,279.07 402.79,278.62 402.85,278.05 402.92,277.34 403.01,276.45 403.13,275.35 403.29,273.99 403.49,272.32 403.75,270.26 404.08,267.75 404.50,264.70 405.05,260.99 405.76,256.53 406.68,251.19 407.86,244.82 409.15,238.37 410.44,232.38 411.74,226.76 413.03,221.50 414.33,216.65 415.62,212.15 416.92,207.96 418.21,204.03 419.50,200.34 420.80,196.86 422.09,193.56 423.39,190.43 424.68,187.44 425.97,184.59 427.27,181.87 428.56,179.26 429.86,176.75 431.15,174.34 432.45,172.02 433.74,169.78 435.03,167.61 436.33,165.52 437.62,163.49 438.92,161.52 440.21,159.61 441.50,157.76 442.80,155.95 444.09,154.20 445.39,152.49 446.68,150.82 447.98,149.19 449.27,147.60 450.56,146.05 451.86,144.53 453.15,143.04 454.45,141.59 455.74,140.16 457.04,138.77 458.33,137.40 459.62,136.05 460.92,134.73 462.21,133.44 463.51,132.17 464.80,130.91 466.09,129.68 467.39,128.47 468.68,127.28 469.98,126.11 471.27,124.96 472.57,123.82 473.86,122.70 475.15,121.59 476.45,120.50 477.74,119.43 479.04,118.37 480.33,117.32 481.62,116.29 482.92,115.27 484.21,114.26 485.51,113.26 486.80,112.28 488.10,111.31 489.39,110.34 490.68,109.39 491.98,108.45 493.27,107.52 494.57,106.60 495.86,105.69 497.16,104.78 498.45,103.89 499.74,103.00 501.04,102.13 502.33,101.26 503.63,100.40 504.92,99.54 506.21,98.70 507.51,97.86 508.80,97.03 510.10,96.20 511.39,95.39 512.69,94.58 513.98,93.77 515.27,92.97 516.57,92.18 517.86,91.40 519.16,90.62 520.45,89.84 521.74,89.08 523.04,88.31 524.33,87.56 525.63,86.81 526.92,86.06 528.22,85.32 529.51,84.58 530.80,83.85 532.10,83.12 533.39,82.40 534.69,81.68 535.98,80.97 537.27,80.26 538.57,79.56 539.86,78.86 541.16,78.16 542.45,77.47 543.75,76.79 545.04,76.10 546.33,75.43 547.63,74.75 548.92,74.08 550.22,73.41 551.51,72.75 552.81,72.09 554.10,71.44 555.39,70.79 556.69,70.14 557.98,69.50 559.28,68.86 560.57,68.22 561.86,67.59 563.16,66.96 564.45,66.34 565.75,65.71 567.04,65.10 568.34,64.48 569.63,63.87 570.92,63.27 572.22,62.66 573.51,62.06 574.81,61.47 576.10,60.88 577.39,60.29 578.69,59.70 579.98,59.12 581.28,58.55 582.57,57.98 583.87,57.41 585.16,56.84 586.45,56.28 587.75,55.73 589.04,55.17 590.34,54.63 591.63,54.08 592.93,53.54 594.22,53.01 595.51,52.48 596.81,51.95 598.10,51.43 599.40,50.92 600.69,50.40 601.98,49.90 603.28,49.40 604.57,48.90 605.87,48.41 607.16,47.93 608.46,47.45 609.75,46.98 611.04,46.51 612.34,46.05 613.63,45.60 614.93,45.15 616.22,44.71 617.51,44.28 618.81,43.85 620.10,43.43 621.40,43.02 622.69,42.62 623.99,42.23 625.28,41.84 626.57,41.47 627.87,41.10 629.16,40.75 630.46,40.40 631.75,40.06 633.04,39.78 634.34,39.56 635.63,39.34 636.93,39.13 638.22,38.92 639.52,38.72 640.81,38.53 642.10,38.34 643.40,38.16 644.69,37.98 645.99,37.81 647.28,37.65 648.58,37.49 649.87,37.34 651.16,37.19 652.46,37.05 653.75,36.92 655.05,36.79 656.34,36.67 657.63,36.56 658.93,36.46 660.22,36.36 661.52,36.28 662.81,36.20 664.11,36.14 665.40,36.10 665.40,36.10 665.40,36.10 665.40,36.10 664.11,36.16 662.81,36.26 661.52,36.37 660.22,36.49 658.93,36.62 657.63,36.77 656.34,36.93 655.05,37.09 653.75,37.27 652.46,37.45 651.16,37.64 649.87,37.84 648.58,38.04 647.28,38.26 645.99,38.48 644.69,38.70 643.40,38.94 642.10,39.18 640.81,39.43 639.52,39.68 638.22,39.94 636.93,40.21 635.63,40.48 634.34,40.76 633.04,41.05 631.75,41.42 630.46,41.85 629.16,42.29 627.87,42.74 626.57,43.20 625.28,43.68 623.99,44.16 622.69,44.66 621.40,45.16 620.10,45.67 618.81,46.19 617.51,46.71 616.22,47.25 614.93,47.79 613.63,48.34 612.34,48.90 611.04,49.46 609.75,50.03 608.46,50.60 607.16,51.18 605.87,51.77 604.57,52.36 603.28,52.96 601.98,53.56 600.69,54.17 599.40,54.78 598.10,55.39 596.81,56.01 595.51,56.64 594.22,57.27 592.93,57.90 591.63,58.54 590.34,59.18 589.04,59.83 587.75,60.48 586.45,61.13 585.16,61.79 583.87,62.45 582.57,63.11 581.28,63.78 579.98,64.45 578.69,65.12 577.39,65.80 576.10,66.48 574.81,67.17 573.51,67.85 572.22,68.54 570.92,69.24 569.63,69.93 568.34,70.63 567.04,71.34 565.75,72.04 564.45,72.75 563.16,73.46 561.86,74.18 560.57,74.90 559.28,75.62 557.98,76.35 556.69,77.07 555.39,77.80 554.10,78.54 552.81,79.28 551.51,80.02 550.22,80.76 548.92,81.51 547.63,82.26 546.33,83.02 545.04,83.77 543.75,84.54 542.45,85.30 541.16,86.07 539.86,86.84 538.57,87.62 537.27,88.40 535.98,89.18 534.69,89.97 533.39,90.76 532.10,91.56 530.80,92.36 529.51,93.16 528.22,93.97 526.92,94.79 525.63,95.60 524.33,96.43 523.04,97.25 521.74,98.09 520.45,98.92 519.16,99.77 517.86,100.61 516.57,101.47 515.27,102.33 513.98,103.19 512.69,104.06 511.39,104.94 510.10,105.82 508.80,106.70 507.51,107.60 506.21,108.50 504.92,109.41 503.63,110.32 502.33,111.24 501.04,112.17 499.74,113.11 498.45,114.05 497.16,115.01 495.86,115.97 494.57,116.94 493.27,117.91 491.98,118.90 490.68,119.90 489.39,120.90 488.10,121.92 486.80,122.94 485.51,123.98 484.21,125.03 482.92,126.08 481.62,127.15 480.33,128.24 479.04,129.33 477.74,130.44 476.45,131.56 475.15,132.69 473.86,133.84 472.57,135.00 471.27,136.18 469.98,137.38 468.68,138.59 467.39,139.82 466.09,141.06 464.80,142.33 463.51,143.61 462.21,144.92 460.92,146.24 459.62,147.59 458.33,148.96 457.04,150.35 455.74,151.77 454.45,153.22 453.15,154.69 451.86,156.20 450.56,157.73 449.27,159.29 447.98,160.89 446.68,162.52 445.39,164.19 444.09,165.90 442.80,167.66 441.50,169.45 440.21,171.29 438.92,173.18 437.62,175.13 436.33,177.12 435.03,179.18 433.74,181.31 432.45,183.50 431.15,185.76 429.86,188.11 428.56,190.53 427.27,193.06 425.97,195.68 424.68,198.41 423.39,201.26 422.09,204.24 420.80,207.37 419.50,210.66 418.21,214.13 416.92,217.79 415.62,221.69 414.33,225.84 413.03,230.28 411.74,235.06 410.44,240.12 409.15,245.47 407.86,251.15 406.68,256.69 405.76,261.27 405.05,265.04 404.50,268.13 404.08,270.64 403.75,272.69 403.49,274.34 403.29,275.67 403.13,276.73 403.01,277.58 402.92,278.26 402.85,278.80 402.79,279.23 402.75,279.57 402.72,279.84 402.69,280.05 402.67,280.21 402.65,280.34 402.64,280.45 402.63,280.52 402.63,280.59 402.62,280.63 402.62,280.67 402.61,280.70 402.61,280.72 402.61,280.74 402.61,280.75 402.60,280.77 402.60,280.77 402.60,280.78 402.60,280.78 402.60,280.79 402.60,280.79 402.60,280.79 402.60,280.79 402.60,280.80 402.60,280.80 402.60,280.80 402.60,280.80 402.60,280.80" fill="#00B0F6" fill-opacity="0.3" stroke="none"/>
<polygon points="402.60,280.80 402.60,280.80 402.60,280.79 402.60,280.79 402.60,280.79 402.60,280.79 402.60,280.79 402.60,280.78 402.60,280.78 402.60,280.77 402.60,280.76 402.60,280.75 402.60,280.73 402.61,280.71 402.61,280.69 402.61,280.66 402.61,280.62 402.62,280.57 402.62,280.51 402.63,280.43 402.63,280.32 402.64,280.19 402.65,280.03 402.67,279.82 402.69,279.56 402.72,279.24 402.75,278.83 402.79,278.32 402.85,277.69 402.92,276.90 403.01,275.93 403.13,274.73 403.29,273.25 403.49,271.44 403.75,269.23 404.08,266.54 404.50,263.29 405.05,259.36 405.76,254.66 406.68,249.06 407.86,242.42 409.15,235.74 410.44,229.55 411.74,223.77 413.03,218.38 414.33,213.44 415.62,208.88 416.92,204.65 418.21,200.70 419.50,197.00 420.80,193.53 422.09,190.25 423.39,187.14 424.68,184.20 425.97,181.39 427.27,178.72 428.56,176.16 429.86,173.71 431.15,171.36 432.45,169.10 433.74,166.93 435.03,164.83 436.33,162.81 437.62,160.86 438.92,158.96 440.21,157.13 441.50,155.35 442.80,153.62 444.09,151.94 445.39,150.31 446.68,148.72 447.98,147.17 449.27,145.66 450.56,144.19 451.86,142.75 453.15,141.34 454.45,139.96 455.74,138.62 457.04,137.30 458.33,136.01 459.62,134.74 460.92,133.50 462.21,132.28 463.51,131.09 464.80,129.91 466.09,128.76 467.39,127.63 468.68,126.51 469.98,125.42 471.27,124.34 472.57,123.27 473.86,122.22 475.15,121.19 476.45,120.18 477.74,119.17 479.04,118.18 480.33,117.21 481.62,116.25 482.92,115.30 484.21,114.36 485.51,113.43 486.80,112.51 488.10,111.61 489.39,110.71 490.68,109.83 491.98,108.95 493.27,108.08 494.57,107.23 495.86,106.38 497.16,105.54 498.45,104.71 499.74,103.88 501.04,103.07 502.33,102.26 503.63,101.46 504.92,100.66 506.21,99.88 507.51,99.10 508.80,98.32 510.10,97.55 511.39,96.79 512.69,96.03 513.98,95.28 515.27,94.54 516.57,93.80 517.86,93.07 519.16,92.34 520.45,91.61 521.74,90.89 523.04,90.18 524.33,89.47 525.63,88.77 526.92,88.06 528.22,87.37 529.51,86.68 530.80,85.99 532.10,85.30 533.39,84.62 534.69,83.95 535.98,83.27 537.27,82.60 538.57,81.94 539.86,81.28 541.16,80.62 542.45,79.96 543.75,79.31 545.04,78.66 546.33,78.01 547.63,77.37 548.92,76.73 550.22,76.09 551.51,75.46 552.81,74.82 554.10,74.19 555.39,73.57 556.69,72.94 557.98,72.32 559.28,71.71 560.57,71.09 561.86,70.48 563.16,69.86 564.45,69.26 565.75,68.65 567.04,68.05 568.34,67.45 569.63,66.85 570.92,66.25 572.22,65.66 573.51,65.06 574.81,64.47 576.10,63.89 577.39,63.30 578.69,62.72 579.98,62.14 581.28,61.56 582.57,60.99 583.87,60.41 585.16,59.84 586.45,59.28 587.75,58.71 589.04,58.15 590.34,57.59 591.63,57.03 592.93,56.47 594.22,55.92 595.51,55.37 596.81,54.83 598.10,54.28 599.40,53.74 600.69,53.20 601.98,52.67 603.28,52.14 604.57,51.61 605.87,51.09 607.16,50.57 608.46,50.05 609.75,49.54 611.04,49.03 612.34,48.52 613.63,48.02 614.93,47.53 616.22,47.04 617.51,46.55 618.81,46.07 620.10,45.60 621.40,45.13 622.69,44.67 623.99,44.21 625.28,43.76 626.57,43.32 627.87,42.88 629.16,42.46 630.46,42.04 631.75,41.63 633.04,41.26 634.34,40.97 635.63,40.68 636.93,40.39 638.22,40.12 639.52,39.85 640.81,39.58 642.10,39.32 643.40,39.07 644.69,38.83 645.99,38.59 647.28,38.36 648.58,38.14 649.87,37.93 651.16,37.72 652.46,37.52 653.75,37.33 655.05,37.15 656.34,36.97 657.63,36.81 658.93,36.65 660.22,36.51 661.52,36.38 662.81,36.27 664.11,36.17 665.40,36.10 665.40,36.10 665.40,36.10 665.40,36.10 664.11,36.21 662.81,36.35 661.52,36.52 660.22,36.71 658.93,36.91 657.63,37.13 656.34,37.36 655.05,37.60 653.75,37.85 652.46,38.11 651.16,38.37 649.87,38.65 648.58,38.94 647.28,39.24 645.99,39.54 644.69,39.85 643.40,40.17 642.10,40.50 640.81,40.84 639.52,41.18 638.22,41.53 636.93,41.89 635.63,42.26 634.34,42.63 633.04,43.01 631.75,43.47 630.46,43.99 629.16,44.52 627.87,45.06 626.57,45.61 625.28,46.16 623.99,46.72 622.69,47.29 621.40,47.86 620.10,48.44 618.81,49.03 617.51,49.62 616.22,50.21 614.93,50.81 613.63,51.42 612.34,52.03 611.04,52.64 609.75,53.26 608.46,53.87 607.16,54.50 605.87,55.12 604.57,55.75 603.28,56.39 601.98,57.02 600.69,57.66 599.40,58.30 598.10,58.94 596.81,59.59 595.51,60.23 594.22,60.88 592.93,61.53 591.63,62.19 590.34,62.84 589.04,63.50 587.75,64.16 586.45,64.82 585.16,65.48 583.87,66.15 582.57,66.81 581.28,67.48 579.98,68.15 578.69,68.82 577.39,69.49 576.10,70.17 574.81,70.84 573.51,71.52 572.22,72.20 570.92,72.88 569.63,73.57 568.34,74.25 567.04,74.94 565.75,75.62 564.45,76.31 563.16,77.01 561.86,77.70 560.57,78.39 559.28,79.09 557.98,79.79 556.69,80.49 555.39,81.20 554.10,81.90 552.81,82.61 551.51,83.32 550.22,84.03 548.92,84.74 547.63,85.46 546.33,86.18 545.04,86.90 543.75,87.62 542.45,88.35 541.16,89.08 539.86,89.81 538.57,90.54 537.27,91.28 535.98,92.02 534.69,92.76 533.39,93.51 532.10,94.26 530.80,95.01 529.51,95.77 528.22,96.53 526.92,97.29 525.63,98.06 524.33,98.83 523.04,99.61 521.74,100.39 520.45,101.17 519.16,101.96 517.86,102.75 516.57,103.55 515.27,104.35 513.98,105.15 512.69,105.97 511.39,106.78 510.10,107.61 508.80,108.43 507.51,109.27 506.21,110.11 504.92,110.95 503.63,111.80 502.33,112.66 501.04,113.53 499.74,114.40 498.45,115.28 497.16,116.16 495.86,117.06 494.57,117.96 493.27,118.87 491.98,119.79 490.68,120.72 489.39,121.65 488.10,122.60 486.80,123.56 485.51,124.52 484.21,125.50 482.92,126.48 481.62,127.48 480.33,128.49 479.04,129.51 477.74,130.55 476.45,131.59 475.15,132.65 473.86,133.73 472.57,134.81 471.27,135.92 469.98,137.04 468.68,138.17 467.39,139.33 466.09,140.50 464.80,141.68 463.51,142.89 462.21,144.12 460.92,145.37 459.62,146.64 458.33,147.93 457.04,149.25 455.74,150.59 454.45,151.96 453.15,153.36 451.86,154.78 450.56,156.24 449.27,157.73 447.98,159.25 446.68,160.81 445.39,162.40 444.09,164.04 442.80,165.72 441.50,167.44 440.21,169.21 438.92,171.03 437.62,172.91 436.33,174.84 435.03,176.83 433.74,178.89 432.45,181.03 431.15,183.23 429.86,185.52 428.56,187.90 427.27,190.38 425.97,192.96 424.68,195.66 423.39,198.48 422.09,201.44 420.80,204.56 419.50,207.85 418.21,211.33 416.92,215.02 415.62,218.96 414.33,223.18 413.03,227.72 411.74,232.62 410.44,237.83 409.15,243.36 407.86,249.26 406.68,255.02 405.76,259.82 405.05,263.80 404.50,267.07 404.08,269.74 403.75,271.93 403.49,273.70 403.29,275.14 403.13,276.29 403.01,277.22 402.92,277.96 402.85,278.56 402.79,279.03 402.75,279.41 402.72,279.71 402.69,279.94 402.67,280.13 402.65,280.27 402.64,280.39 402.63,280.48 402.63,280.55 402.62,280.61 402.62,280.65 402.61,280.68 402.61,280.71 402.61,280.73 402.61,280.75 402.60,280.76 402.60,280.77 402.60,280.78 402.60,280.78 402.60,280.79 402.60,280.79 402.60,280.79 402.60,280.79 402.60,280.79 402.60,280.80 402.60,280.80 402.60,280.80 402.60,280.80" fill="#E76BF3" fill-opacity="0.3" stroke="none"/>
<polyline points="402.60,280.80 402.60,280.76 402.60,280.76 402.60,280.75 402.60,280.74 402.60,280.72 402.60,280.71 402.60,280.69 402.60,280.66 402.60,280.64 402.60,280.60 402.60,280.56 402.60,280.51 402.61,280.45 402.61,280.38 402.61,280.29 402.61,280.19 402.62,280.06 402.62,279.91 402.63,279.73 402.63,279.51 402.64,279.26 402.65,278.95 402.67,278.58 402.69,278.14 402.72,277.62 402.75,277.00 402.79,276.27 402.85,275.39 402.92,274.36 403.01,273.14 403.13,271.70 403.29,270.00 403.49,268.01 403.75,265.67 404.08,262.93 404.50,259.74 405.05,256.01 405.76,251.69 406.68,246.68 407.86,240.91 409.15,235.21 410.44,230.01 411.74,225.20 413.03,220.74 414.33,216.57 415.62,212.67 416.92,208.99 418.21,205.50 419.50,202.18 420.80,199.02 422.09,195.99 423.39,193.08 424.68,190.28 425.97,187.59 427.27,184.99 428.56,182.47 429.86,180.04 431.15,177.68 432.45,175.38 433.74,173.16 435.03,170.99 436.33,168.88 437.62,166.82 438.92,164.81 440.21,162.85 441.50,160.93 442.80,159.06 444.09,157.23 445.39,155.43 446.68,153.68 447.98,151.96 449.27,150.27 450.56,148.61 451.86,146.99 453.15,145.39 454.45,143.82 455.74,142.28 457.04,140.77 458.33,139.28 459.62,137.82 460.92,136.38 462.21,134.96 463.51,133.56 464.80,132.19 466.09,130.83 467.39,129.50 468.68,128.19 469.98,126.89 471.27,125.61 472.57,124.35 473.86,123.11 475.15,121.88 476.45,120.67 477.74,119.48 479.04,118.30 480.33,117.13 481.62,115.99 482.92,114.85 484.21,113.73 485.51,112.62 486.80,111.53 488.10,110.44 489.39,109.38 490.68,108.32 491.98,107.27 493.27,106.24 494.57,105.22 495.86,104.21 497.16,103.21 498.45,102.23 499.74,101.25 501.04,100.28 502.33,99.33 503.63,98.38 504.92,97.44 506.21,96.52 507.51,95.60 508.80,94.69 510.10,93.79 511.39,92.91 512.69,92.03 513.98,91.15 515.27,90.29 516.57,89.44 517.86,88.59 519.16,87.75 520.45,86.93 521.74,86.10 523.04,85.29 524.33,84.49 525.63,83.69 526.92,82.90 528.22,82.12 529.51,81.34 530.80,80.57 532.10,79.81 533.39,79.06 534.69,78.31 535.98,77.57 537.27,76.84 538.57,76.12 539.86,75.40 541.16,74.69 542.45,73.98 543.75,73.28 545.04,72.59 546.33,71.91 547.63,71.23 548.92,70.55 550.22,69.89 551.51,69.23 552.81,68.58 554.10,67.93 555.39,67.29 556.69,66.65 557.98,66.02 559.28,65.40 560.57,64.78 561.86,64.17 563.16,63.57 564.45,62.97 565.75,62.37 567.04,61.79 568.34,61.20 569.63,60.63 570.92,60.06 572.22,59.50 573.51,58.94 574.81,58.38 576.10,57.84 577.39,57.30 578.69,56.76 579.98,56.23 581.28,55.71 582.57,55.19 583.87,54.68 585.16,54.17 586.45,53.67 587.75,53.17 589.04,52.68 590.34,52.20 591.63,51.72 592.93,51.25 594.22,50.78 595.51,50.32 596.81,49.87 598.10,49.42 599.40,48.98 600.69,48.54 601.98,48.11 603.28,47.68 604.57,47.26 605.87,46.85 607.16,46.44 608.46,46.04 609.75,45.65 611.04,45.26 612.34,44.88 613.63,44.50 614.93,44.13 616.22,43.77 617.51,43.41 618.81,43.06 620.10,42.72 621.40,42.38 622.69,42.05 623.99,41.73 625.28,41.41 626.57,41.11 627.87,40.81 629.16,40.51 630.46,40.23 631.75,39.95 633.04,39.70 634.34,39.48 635.63,39.27 636.93,39.06 638.22,38.86 639.52,38.66 640.81,38.47 642.10,38.29 643.40,38.11 644.69,37.94 645.99,37.77 647.28,37.61 648.58,37.45 649.87,37.31 651.16,37.16 652.46,37.03 653.75,36.90 655.05,36.77 656.34,36.66 657.63,36.55 658.93,36.45 660.22,36.35 661.52,36.27 662.81,36.20 664.11,36.14 665.40,36.10 665.40,36.10" fill="none" stroke="#F8766D" stroke-width="1.7" stroke-linejoin="round"/>
<polyline points="402.60,280.80 402.60,280.68 402.60,280.66 402.60,280.64 402.60,280.61 402.60,280.58 402.60,280.54 402.60,280.50 402.60,280.44 402.60,280.38 402.60,280.31 402.60,280.23 402.60,280.13 402.61,280.02 402.61,279.89 402.61,279.74 402.61,279.56 402.62,279.35 402.62,279.11 402.63,278.83 402.63,278.50 402.64,278.12 402.65,277.69 402.67,277.18 402.69,276.59 402.72,275.90 402.75,275.11 402.79,274.20 402.85,273.14 402.92,271.93 403.01,270.52 403.13,268.91 403.29,267.05 403.49,264.92 403.75,262.47 404.08,259.67 404.50,256.46 405.05,252.79 405.76,248.61 406.68,243.86 407.86,238.46 409.15,233.20 410.44,228.46 411.74,224.11 413.03,220.06 414.33,216.25 415.62,212.64 416.92,209.19 418.21,205.90 419.50,202.73 420.80,199.68 422.09,196.74 423.39,193.89 424.68,191.13 425.97,188.45 427.27,185.84 428.56,183.31 429.86,180.84 431.15,178.43 432.45,176.08 433.74,173.78 435.03,171.54 436.33,169.34 437.62,167.19 438.92,165.08 440.21,163.01 441.50,160.99 442.80,159.00 444.09,157.04 445.39,155.13 446.68,153.24 447.98,151.39 449.27,149.57 450.56,147.78 451.86,146.02 453.15,144.29 454.45,142.59 455.74,140.91 457.04,139.26 458.33,137.63 459.62,136.03 460.92,134.45 462.21,132.89 463.51,131.36 464.80,129.84 466.09,128.35 467.39,126.88 468.68,125.43 469.98,124.00 471.27,122.59 472.57,121.20 473.86,119.83 475.15,118.47 476.45,117.14 477.74,115.82 479.04,114.51 480.33,113.23 481.62,111.96 482.92,110.71 484.21,109.47 485.51,108.25 486.80,107.04 488.10,105.85 489.39,104.67 490.68,103.51 491.98,102.37 493.27,101.23 494.57,100.11 495.86,99.01 497.16,97.92 498.45,96.84 499.74,95.77 501.04,94.72 502.33,93.68 503.63,92.65 504.92,91.64 506.21,90.64 507.51,89.65 508.80,88.67 510.10,87.70 511.39,86.75 512.69,85.81 513.98,84.88 515.27,83.96 516.57,83.05 517.86,82.15 519.16,81.26 520.45,80.39 521.74,79.52 523.04,78.67 524.33,77.83 525.63,76.99 526.92,76.17 528.22,75.36 529.51,74.56 530.80,73.76 532.10,72.98 533.39,72.21 534.69,71.45 535.98,70.69 537.27,69.95 538.57,69.22 539.86,68.49 541.16,67.78 542.45,67.07 543.75,66.37 545.04,65.69 546.33,65.01 547.63,64.34 548.92,63.68 550.22,63.03 551.51,62.39 552.81,61.75 554.10,61.13 555.39,60.51 556.69,59.91 557.98,59.31 559.28,58.72 560.57,58.14 561.86,57.56 563.16,57.00 564.45,56.44 565.75,55.89 567.04,55.35 568.34,54.82 569.63,54.30 570.92,53.78 572.22,53.28 573.51,52.78 574.81,52.29 576.10,51.80 577.39,51.33 578.69,50.86 579.98,50.40 581.28,49.95 582.57,49.51 583.87,49.07 585.16,48.64 586.45,48.22 587.75,47.81 589.04,47.40 590.34,47.00 591.63,46.61 592.93,46.23 594.22,45.85 595.51,45.49 596.81,45.13 598.10,44.77 599.40,44.43 600.69,44.09 601.98,43.76 603.28,43.43 604.57,43.12 605.87,42.81 607.16,42.51 608.46,42.21 609.75,41.92 611.04,41.64 612.34,41.37 613.63,41.10 614.93,40.84 616.22,40.59 617.51,40.35 618.81,40.11 620.10,39.88 621.40,39.66 622.69,39.44 623.99,39.23 625.28,39.03 626.57,38.83 627.87,38.64 629.16,38.46 630.46,38.29 631.75,38.12 633.04,37.97 634.34,37.85 635.63,37.73 636.93,37.62 638.22,37.50 639.52,37.40 640.81,37.29 642.10,37.19 643.40,37.10 644.69,37.00 645.99,36.92 647.28,36.83 648.58,36.75 649.87,36.67 651.16,36.60 652.46,36.53 653.75,36.47 655.05,36.41 656.34,36.35 657.63,36.30 658.93,36.25 660.22,36.21 661.52,36.17 662.81,36.14 664.11,36.11 665.40,36.10 665.40,36.10" fill="none" stroke="#A3A500" stroke-width="1.7" stroke-linejoin="round"/>
<polyline points="402.60,280.80 402.60,280.80 402.60,280.80 402.60,280.80 402.60,280.80 402.60,280.80 402.60,280.80 402.60,280.80 402.60,280.80 402.60,280.80 402.60,280.80 402.60,280.80 402.60,280.79 402.61,280.79 402.61,280.79 402.61,280.79 402.61,280.78 402.62,280.77 402.62,280.76 402.63,280.75 402.63,280.73 402.64,280.70 402.65,280.67 402.67,280.62 402.69,280.55 402.72,280.46 402.75,280.33 402.79,280.17 402.85,279.95 402.92,279.65 403.01,279.25 403.13,278.73 403.29,278.03 403.49,277.12 403.75,275.92 404.08,274.37 404.50,272.35 405.05,269.76 405.76,266.45 406.68,262.26 407.86,256.99 409.15,251.38 410.44,245.95 411.74,240.71 413.03,235.68 414.33,230.95 415.62,226.50 416.92,222.29 418.21,218.32 419.50,214.54 420.80,210.96 422.09,207.54 423.39,204.28 424.68,201.15 425.97,198.16 427.27,195.29 428.56,192.52 429.86,189.86 431.15,187.30 432.45,184.83 433.74,182.43 435.03,180.12 436.33,177.87 437.62,175.70 438.92,173.59 440.21,171.54 441.50,169.54 442.80,167.60 444.09,165.71 445.39,163.87 446.68,162.07 447.98,160.32 449.27,158.60 450.56,156.93 451.86,155.29 453.15,153.69 454.45,152.12 455.74,150.59 457.04,149.08 458.33,147.60 459.62,146.16 460.92,144.73 462.21,143.34 463.51,141.97 464.80,140.62 466.09,139.30 467.39,137.99 468.68,136.71 469.98,135.45 471.27,134.21 472.57,132.99 473.86,131.78 475.15,130.59 476.45,129.42 477.74,128.27 479.04,127.13 480.33,126.01 481.62,124.90 482.92,123.80 484.21,122.72 485.51,121.66 486.80,120.60 488.10,119.56 489.39,118.53 490.68,117.51 491.98,116.50 493.27,115.50 494.57,114.52 495.86,113.54 497.16,112.57 498.45,111.62 499.74,110.67 501.04,109.73 502.33,108.80 503.63,107.88 504.92,106.97 506.21,106.07 507.51,105.17 508.80,104.29 510.10,103.40 511.39,102.53 512.69,101.67 513.98,100.81 515.27,99.95 516.57,99.11 517.86,98.27 519.16,97.44 520.45,96.61 521.74,95.79 523.04,94.97 524.33,94.16 525.63,93.36 526.92,92.56 528.22,91.77 529.51,90.98 530.80,90.20 532.10,89.42 533.39,88.64 534.69,87.88 535.98,87.11 537.27,86.35 538.57,85.60 539.86,84.85 541.16,84.10 542.45,83.36 543.75,82.62 545.04,81.89 546.33,81.16 547.63,80.43 548.92,79.71 550.22,78.99 551.51,78.28 552.81,77.57 554.10,76.86 555.39,76.16 556.69,75.45 557.98,74.76 559.28,74.07 560.57,73.38 561.86,72.69 563.16,72.01 564.45,71.33 565.75,70.65 567.04,69.98 568.34,69.31 569.63,68.64 570.92,67.98 572.22,67.32 573.51,66.66 574.81,66.01 576.10,65.36 577.39,64.71 578.69,64.07 579.98,63.42 581.28,62.79 582.57,62.15 583.87,61.52 585.16,60.90 586.45,60.27 587.75,59.65 589.04,59.04 590.34,58.42 591.63,57.81 592.93,57.21 594.22,56.60 595.51,56.01 596.81,55.41 598.10,54.82 599.40,54.24 600.69,53.65 601.98,53.08 603.28,52.50 604.57,51.93 605.87,51.37 607.16,50.81 608.46,50.26 609.75,49.71 611.04,49.17 612.34,48.63 613.63,48.10 614.93,47.57 616.22,47.05 617.51,46.54 618.81,46.03 620.10,45.54 621.40,45.04 622.69,44.56 623.99,44.08 625.28,43.62 626.57,43.16 627.87,42.71 629.16,42.27 630.46,41.84 631.75,41.42 633.04,41.06 634.34,40.77 635.63,40.49 636.93,40.22 638.22,39.95 639.52,39.69 640.81,39.43 642.10,39.19 643.40,38.94 644.69,38.71 645.99,38.48 647.28,38.26 648.58,38.05 649.87,37.84 651.16,37.64 652.46,37.45 653.75,37.27 655.05,37.09 656.34,36.93 657.63,36.77 658.93,36.63 660.22,36.49 661.52,36.37 662.81,36.26 664.11,36.16 665.40,36.10 665.40,36.10" fill="none" stroke="#00BF7D" stroke-width="1.7" stroke-linejoin="round"/>
<polyline points="402.60,280.80 402.60,280.80 402.60,280.80 402.60,280.80 402.60,280.79 402.60,280.79 402.60,280.79 402.60,280.79 402.60,280.78 402.60,280.78 402.60,280.77 402.60,280.77 402.60,280.76 402.61,280.74 402.61,280.73 402.61,280.71 402.61,280.68 402.62,280.64 402.62,280.60 402.63,280.54 402.63,280.46 402.64,280.37 402.65,280.25 402.67,280.10 402.69,279.90 402.72,279.65 402.75,279.34 402.79,278.95 402.85,278.45 402.92,277.83 403.01,277.05 403.13,276.08 403.29,274.88 403.49,273.38 403.75,271.54 404.08,269.27 404.50,266.49 405.05,263.10 405.76,258.99 406.68,254.04 407.86,248.09 409.15,242.03 410.44,236.36 411.74,231.01 413.03,225.99 414.33,221.34 415.62,217.01 416.92,212.96 418.21,209.16 419.50,205.58 420.80,202.19 422.09,198.97 423.39,195.91 424.68,192.99 425.97,190.19 427.27,187.51 428.56,184.94 429.86,182.47 431.15,180.09 432.45,177.79 433.74,175.57 435.03,173.43 436.33,171.35 437.62,169.33 438.92,167.37 440.21,165.47 441.50,163.61 442.80,161.81 444.09,160.05 445.39,158.34 446.68,156.67 447.98,155.04 449.27,153.44 450.56,151.88 451.86,150.35 453.15,148.85 454.45,147.38 455.74,145.95 457.04,144.54 458.33,143.15 459.62,141.79 460.92,140.46 462.21,139.14 463.51,137.85 464.80,136.58 466.09,135.33 467.39,134.10 468.68,132.89 469.98,131.70 471.27,130.52 472.57,129.36 473.86,128.22 475.15,127.09 476.45,125.97 477.74,124.88 479.04,123.79 480.33,122.72 481.62,121.66 482.92,120.61 484.21,119.58 485.51,118.55 486.80,117.54 488.10,116.54 489.39,115.55 490.68,114.57 491.98,113.60 493.27,112.64 494.57,111.69 495.86,110.75 497.16,109.81 498.45,108.89 499.74,107.97 501.04,107.07 502.33,106.17 503.63,105.27 504.92,104.39 506.21,103.51 507.51,102.64 508.80,101.78 510.10,100.92 511.39,100.07 512.69,99.23 513.98,98.39 515.27,97.56 516.57,96.73 517.86,95.91 519.16,95.10 520.45,94.29 521.74,93.48 523.04,92.69 524.33,91.89 525.63,91.11 526.92,90.32 528.22,89.54 529.51,88.77 530.80,88.00 532.10,87.24 533.39,86.48 534.69,85.72 535.98,84.97 537.27,84.23 538.57,83.48 539.86,82.75 541.16,82.01 542.45,81.28 543.75,80.56 545.04,79.83 546.33,79.12 547.63,78.40 548.92,77.69 550.22,76.98 551.51,76.28 552.81,75.58 554.10,74.88 555.39,74.19 556.69,73.50 557.98,72.81 559.28,72.13 560.57,71.45 561.86,70.78 563.16,70.11 564.45,69.44 565.75,68.77 567.04,68.11 568.34,67.45 569.63,66.80 570.92,66.15 572.22,65.50 573.51,64.86 574.81,64.21 576.10,63.58 577.39,62.94 578.69,62.31 579.98,61.69 581.28,61.06 582.57,60.44 583.87,59.83 585.16,59.22 586.45,58.61 587.75,58.01 589.04,57.41 590.34,56.81 591.63,56.22 592.93,55.63 594.22,55.05 595.51,54.47 596.81,53.89 598.10,53.33 599.40,52.76 600.69,52.20 601.98,51.64 603.28,51.09 604.57,50.55 605.87,50.01 607.16,49.48 608.46,48.95 609.75,48.43 611.04,47.91 612.34,47.40 613.63,46.90 614.93,46.40 616.22,45.91 617.51,45.43 618.81,44.96 620.10,44.49 621.40,44.03 622.69,43.58 623.99,43.14 625.28,42.71 626.57,42.29 627.87,41.87 629.16,41.47 630.46,41.08 631.75,40.70 633.04,40.37 634.34,40.12 635.63,39.87 636.93,39.63 638.22,39.40 639.52,39.17 640.81,38.95 642.10,38.73 643.40,38.52 644.69,38.32 645.99,38.12 647.28,37.93 648.58,37.75 649.87,37.57 651.16,37.40 652.46,37.23 653.75,37.08 655.05,36.93 656.34,36.79 657.63,36.66 658.93,36.53 660.22,36.42 661.52,36.32 662.81,36.23 664.11,36.15 665.40,36.10 665.40,36.10" fill="none" stroke="#00B0F6" stroke-width="1.7" stroke-linejoin="round"/>
<polyline points="402.60,280.80 402.60,280.80 402.60,280.80 402.60,280.79 402.60,280.79 402.60,280.79 402.60,280.79 402.60,280.79 402.60,280.78 402.60,280.78 402.60,280.77 402.60,280.76 402.60,280.75 402.61,280.73 402.61,280.71 402.61,280.69 402.61,280.65 402.62,280.61 402.62,280.56 402.63,280.49 402.63,280.41 402.64,280.30 402.65,280.16 402.67,279.99 402.69,279.77 402.72,279.49 402.75,279.14 402.79,278.70 402.85,278.16 402.92,277.47 403.01,276.62 403.13,275.56 403.29,274.25 403.49,272.64 403.75,270.65 404.08,268.22 404.50,265.27 405.05,261.68 405.76,257.35 406.68,252.15 407.86,245.95 409.15,239.66 410.44,233.80 411.74,228.30 413.03,223.15 414.33,218.41 415.62,214.02 416.92,209.92 418.21,206.10 419.50,202.51 420.80,199.12 422.09,195.92 423.39,192.88 424.68,189.99 425.97,187.23 427.27,184.60 428.56,182.08 429.86,179.66 431.15,177.33 432.45,175.10 433.74,172.94 435.03,170.86 436.33,168.85 437.62,166.90 438.92,165.01 440.21,163.18 441.50,161.40 442.80,159.67 444.09,157.99 445.39,156.35 446.68,154.76 447.98,153.20 449.27,151.68 450.56,150.20 451.86,148.75 453.15,147.33 454.45,145.94 455.74,144.58 457.04,143.25 458.33,141.94 459.62,140.66 460.92,139.40 462.21,138.16 463.51,136.95 464.80,135.76 466.09,134.58 467.39,133.43 468.68,132.29 469.98,131.18 471.27,130.07 472.57,128.99 473.86,127.92 475.15,126.86 476.45,125.82 477.74,124.80 479.04,123.78 480.33,122.78 481.62,121.80 482.92,120.82 484.21,119.86 485.51,118.90 486.80,117.96 488.10,117.03 489.39,116.11 490.68,115.19 491.98,114.29 493.27,113.40 494.57,112.51 495.86,111.64 497.16,110.77 498.45,109.91 499.74,109.05 501.04,108.21 502.33,107.37 503.63,106.54 504.92,105.72 506.21,104.90 507.51,104.09 508.80,103.28 510.10,102.48 511.39,101.69 512.69,100.90 513.98,100.12 515.27,99.35 516.57,98.57 517.86,97.81 519.16,97.05 520.45,96.29 521.74,95.54 523.04,94.79 524.33,94.05 525.63,93.31 526.92,92.57 528.22,91.84 529.51,91.12 530.80,90.39 532.10,89.67 533.39,88.96 534.69,88.25 535.98,87.54 537.27,86.83 538.57,86.13 539.86,85.43 541.16,84.74 542.45,84.04 543.75,83.35 545.04,82.67 546.33,81.98 547.63,81.30 548.92,80.62 550.22,79.95 551.51,79.27 552.81,78.60 554.10,77.93 555.39,77.27 556.69,76.60 557.98,75.94 559.28,75.28 560.57,74.63 561.86,73.97 563.16,73.32 564.45,72.67 565.75,72.02 567.04,71.38 568.34,70.73 569.63,70.09 570.92,69.45 572.22,68.82 573.51,68.18 574.81,67.55 576.10,66.92 577.39,66.29 578.69,65.66 579.98,65.03 581.28,64.41 582.57,63.79 583.87,63.17 585.16,62.55 586.45,61.94 587.75,61.33 589.04,60.72 590.34,60.11 591.63,59.50 592.93,58.90 594.22,58.30 595.51,57.70 596.81,57.10 598.10,56.51 599.40,55.92 600.69,55.33 601.98,54.75 603.28,54.17 604.57,53.59 605.87,53.01 607.16,52.44 608.46,51.87 609.75,51.31 611.04,50.75 612.34,50.19 613.63,49.64 614.93,49.09 616.22,48.54 617.51,48.01 618.81,47.47 620.10,46.94 621.40,46.42 622.69,45.91 623.99,45.40 625.28,44.89 626.57,44.40 627.87,43.91 629.16,43.43 630.46,42.96 631.75,42.49 633.04,42.08 634.34,41.75 635.63,41.42 636.93,41.09 638.22,40.78 639.52,40.47 640.81,40.17 642.10,39.87 643.40,39.59 644.69,39.31 645.99,39.03 647.28,38.77 648.58,38.51 649.87,38.26 651.16,38.02 652.46,37.79 653.75,37.57 655.05,37.35 656.34,37.15 657.63,36.96 658.93,36.77 660.22,36.60 661.52,36.45 662.81,36.31 664.11,36.19 665.40,36.10 665.40,36.10" fill="none" stroke="#E76BF3" stroke-width="1.7" stroke-linejoin="round"/>
<text x="402.60" y="307.30" font-size="10.3" text-anchor="middle" fill="#4D4D4D" stroke="#4D4D4D" stroke-width="0.3" font-weight="normal" >0.00</text>
<text x="383.30" y="285.00" font-size="10.3" text-anchor="end" fill="#4D4D4D" stroke="#4D4D4D" stroke-width="0.3" font-weight="normal" >0.00</text>
<text x="468.30" y="307.30" font-size="10.3" text-anchor="middle" fill="#4D4D4D" stroke="#4D4D4D" stroke-width="0.3" font-weight="normal" >0.25</text>
<text x="383.30" y="223.82" font-size="10.3" text-anchor="end" fill="#4D4D4D" stroke="#4D4D4D" stroke-width="0.3" font-weight="normal" >0.25</text>
<text x="534.00" y="307.30" font-size="10.3" text-anchor="middle" fill="#4D4D4D" stroke="#4D4D4D" stroke-width="0.3" font-weight="normal" >0.50</text>
<text x="383.30" y="162.65" font-size="10.3" text-anchor="end" fill="#4D4D4D" stroke="#4D4D4D" stroke-width="0.3" font-weight="normal" >0.50</text>
<text x="599.70" y="307.30" font-size="10.3" text-anchor="middle" fill="#4D4D4D" stroke="#4D4D4D" stroke-width="0.3" font-weight="normal" >0.75</text>
<text x="383.30" y="101.48" font-size="10.3" text-anchor="end" fill="#4D4D4D" stroke="#4D4D4D" stroke-width="0.3" font-weight="normal" >0.75</text>
<text x="665.40" y="307.30" font-size="10.3" text-anchor="middle" fill="#4D4D4D" stroke="#4D4D4D" stroke-width="0.3" font-weight="normal" >1.00</text>
<text x="383.30" y="40.30" font-size="10.3" text-anchor="end" fill="#4D4D4D" stroke="#4D4D4D" stroke-width="0.3" font-weight="normal" >1.00</text>
<text x="534.00" y="322.40" font-size="13.1" text-anchor="middle" fill="#000" stroke="#000" stroke-width="0.3" font-weight="normal" >1 – Specificity</text>
<text x="355.70" y="158.45" font-size="13.1" text-anchor="middle" fill="#000" stroke="#000" stroke-width="0.3" font-weight="normal" transform="rotate(-90 355.70 158.45)">Sensitivity</text>
<text x="389.10" y="14.00" font-size="15.4" text-anchor="start" fill="#000" stroke="#000" stroke-width="0.3" font-weight="normal" >Max pain &gt; 6 (severe)</text>
<text x="346.90" y="14.00" font-size="16.5" text-anchor="start" fill="#000" stroke="#000" stroke-width="0.15" font-weight="bold" >B</text>
<text x="665.75" y="169.10" font-size="12.9" text-anchor="end" fill="#000" stroke="#000" stroke-width="0.3" font-weight="normal" >Postop day</text>
<rect x="601.80" y="178.00" width="19.4" height="18.8" fill="#F8766D" fill-opacity="0.3"/>
<line x1="603.00" y1="187.40" x2="620.00" y2="187.40" stroke="#F8766D" stroke-width="1.4" />
<text x="628.80" y="191.70" font-size="10.3" text-anchor="start" fill="#000" stroke="#000" stroke-width="0.3" font-weight="normal" >Day 0</text>
<rect x="601.80" y="198.75" width="19.4" height="18.8" fill="#A3A500" fill-opacity="0.3"/>
<line x1="603.00" y1="208.15" x2="620.00" y2="208.15" stroke="#A3A500" stroke-width="1.4" />
<text x="628.80" y="212.45" font-size="10.3" text-anchor="start" fill="#000" stroke="#000" stroke-width="0.3" font-weight="normal" >Day 1</text>
<rect x="601.80" y="219.50" width="19.4" height="18.8" fill="#00BF7D" fill-opacity="0.3"/>
<line x1="603.00" y1="228.90" x2="620.00" y2="228.90" stroke="#00BF7D" stroke-width="1.4" />
<text x="628.80" y="233.20" font-size="10.3" text-anchor="start" fill="#000" stroke="#000" stroke-width="0.3" font-weight="normal" >Day 2</text>
<rect x="601.80" y="240.25" width="19.4" height="18.8" fill="#00B0F6" fill-opacity="0.3"/>
<line x1="603.00" y1="249.65" x2="620.00" y2="249.65" stroke="#00B0F6" stroke-width="1.4" />
<text x="628.80" y="253.95" font-size="10.3" text-anchor="start" fill="#000" stroke="#000" stroke-width="0.3" font-weight="normal" >Day 3</text>
<rect x="601.80" y="261.00" width="19.4" height="18.8" fill="#E76BF3" fill-opacity="0.3"/>
<line x1="603.00" y1="270.40" x2="620.00" y2="270.40" stroke="#E76BF3" stroke-width="1.4" />
<text x="628.80" y="274.70" font-size="10.3" text-anchor="start" fill="#000" stroke="#000" stroke-width="0.3" font-weight="normal" >Day 4</text>
<line x1="38.20" y1="626.10" x2="333.60" y2="626.10" stroke="#EBEBEB" stroke-width="0.8" />
<line x1="38.20" y1="545.10" x2="333.60" y2="545.10" stroke="#EBEBEB" stroke-width="0.8" />
<line x1="38.20" y1="464.10" x2="333.60" y2="464.10" stroke="#EBEBEB" stroke-width="0.8" />
<line x1="38.20" y1="383.10" x2="333.60" y2="383.10" stroke="#EBEBEB" stroke-width="0.8" />
<line x1="38.20" y1="585.60" x2="333.60" y2="585.60" stroke="#EBEBEB" stroke-width="1.6" />
<line x1="38.20" y1="504.60" x2="333.60" y2="504.60" stroke="#EBEBEB" stroke-width="1.6" />
<line x1="38.20" y1="423.60" x2="333.60" y2="423.60" stroke="#EBEBEB" stroke-width="1.6" />
<line x1="72.30" y1="359.40" x2="72.30" y2="627.20" stroke="#EBEBEB" stroke-width="1.6" />
<line x1="129.15" y1="359.40" x2="129.15" y2="627.20" stroke="#EBEBEB" stroke-width="1.6" />
<line x1="186.00" y1="359.40" x2="186.00" y2="627.20" stroke="#EBEBEB" stroke-width="1.6" />
<line x1="242.85" y1="359.40" x2="242.85" y2="627.20" stroke="#EBEBEB" stroke-width="1.6" />
<line x1="299.70" y1="359.40" x2="299.70" y2="627.20" stroke="#EBEBEB" stroke-width="1.6" />
<line x1="72.30" y1="380.67" x2="72.30" y2="392.75" stroke="#333333" stroke-width="1.3" />
<line x1="72.30" y1="418.74" x2="72.30" y2="405.85" stroke="#333333" stroke-width="1.3" />
<rect x="46.72" y="392.75" width="51.16" height="13.10" fill="#F8766D" stroke="#333333" stroke-width="1.3"/>
<line x1="46.72" y1="399.30" x2="97.88" y2="399.30" stroke="#333333" stroke-width="2.6" />
<line x1="129.15" y1="574.26" x2="129.15" y2="587.40" stroke="#333333" stroke-width="1.3" />
<line x1="129.15" y1="615.57" x2="129.15" y2="601.62" stroke="#333333" stroke-width="1.3" />
<rect x="103.57" y="587.40" width="51.16" height="14.21" fill="#A3A500" stroke="#333333" stroke-width="1.3"/>
<line x1="103.57" y1="594.51" x2="154.73" y2="594.51" stroke="#333333" stroke-width="2.6" />
<line x1="186.00" y1="524.04" x2="186.00" y2="541.44" stroke="#333333" stroke-width="1.3" />
<line x1="186.00" y1="578.31" x2="186.00" y2="560.10" stroke="#333333" stroke-width="1.3" />
<rect x="160.42" y="541.44" width="51.16" height="18.67" fill="#00BF7D" stroke="#333333" stroke-width="1.3"/>
<line x1="160.42" y1="550.77" x2="211.58" y2="550.77" stroke="#333333" stroke-width="2.6" />
<line x1="242.85" y1="441.42" x2="242.85" y2="462.95" stroke="#333333" stroke-width="1.3" />
<line x1="242.85" y1="504.60" x2="242.85" y2="484.69" stroke="#333333" stroke-width="1.3" />
<rect x="217.27" y="462.95" width="51.16" height="21.73" fill="#00B0F6" stroke="#333333" stroke-width="1.3"/>
<line x1="217.27" y1="473.82" x2="268.43" y2="473.82" stroke="#333333" stroke-width="2.6" />
<line x1="299.70" y1="370.95" x2="299.70" y2="395.92" stroke="#333333" stroke-width="1.3" />
<line x1="299.70" y1="447.09" x2="299.70" y2="422.12" stroke="#333333" stroke-width="1.3" />
<rect x="274.12" y="395.92" width="51.16" height="26.19" fill="#E76BF3" stroke="#333333" stroke-width="1.3"/>
<line x1="274.12" y1="409.02" x2="325.28" y2="409.02" stroke="#333333" stroke-width="2.6" />
<text x="32.60" y="589.80" font-size="10.3" text-anchor="end" fill="#4D4D4D" stroke="#4D4D4D" stroke-width="0.3" font-weight="normal" >2.4</text>
<text x="32.60" y="508.80" font-size="10.3" text-anchor="end" fill="#4D4D4D" stroke="#4D4D4D" stroke-width="0.3" font-weight="normal" >2.5</text>
<text x="32.60" y="427.80" font-size="10.3" text-anchor="end" fill="#4D4D4D" stroke="#4D4D4D" stroke-width="0.3" font-weight="normal" >2.6</text>
<text x="72.30" y="642.10" font-size="10.3" text-anchor="middle" fill="#4D4D4D" stroke="#4D4D4D" stroke-width="0.3" font-weight="normal" >Day 0</text>
<text x="129.15" y="642.10" font-size="10.3" text-anchor="middle" fill="#4D4D4D" stroke="#4D4D4D" stroke-width="0.3" font-weight="normal" >Day 1</text>
<text x="186.00" y="642.10" font-size="10.3" text-anchor="middle" fill="#4D4D4D" stroke="#4D4D4D" stroke-width="0.3" font-weight="normal" >Day 2</text>
<text x="242.85" y="642.10" font-size="10.3" text-anchor="middle" fill="#4D4D4D" stroke="#4D4D4D" stroke-width="0.3" font-weight="normal" >Day 3</text>
<text x="299.70" y="642.10" font-size="10.3" text-anchor="middle" fill="#4D4D4D" stroke="#4D4D4D" stroke-width="0.3" font-weight="normal" >Day 4</text>
<text x="185.90" y="656.80" font-size="13.1" text-anchor="middle" fill="#000" stroke="#000" stroke-width="0.3" font-weight="normal" >Postoperative Day</text>
<text x="10.60" y="493.30" font-size="13.1" text-anchor="middle" fill="#000" stroke="#000" stroke-width="0.3" font-weight="normal" transform="rotate(-90 10.60 493.30)">RMSE (NRS)</text>
<text x="38.40" y="349.30" font-size="15.4" text-anchor="start" fill="#000" stroke="#000" stroke-width="0.3" font-weight="normal" >RMSE</text>
<text x="1.80" y="349.30" font-size="16.5" text-anchor="start" fill="#000" stroke="#000" stroke-width="0.15" font-weight="bold" >C</text>
<line x1="389.00" y1="585.50" x2="678.80" y2="585.50" stroke="#EBEBEB" stroke-width="0.8" />
<line x1="389.00" y1="524.30" x2="678.80" y2="524.30" stroke="#EBEBEB" stroke-width="0.8" />
<line x1="389.00" y1="463.10" x2="678.80" y2="463.10" stroke="#EBEBEB" stroke-width="0.8" />
<line x1="389.00" y1="401.90" x2="678.80" y2="401.90" stroke="#EBEBEB" stroke-width="0.8" />
<line x1="389.00" y1="616.10" x2="678.80" y2="616.10" stroke="#EBEBEB" stroke-width="1.6" />
<line x1="389.00" y1="554.90" x2="678.80" y2="554.90" stroke="#EBEBEB" stroke-width="1.6" />
<line x1="389.00" y1="493.70" x2="678.80" y2="493.70" stroke="#EBEBEB" stroke-width="1.6" />
<line x1="389.00" y1="432.50" x2="678.80" y2="432.50" stroke="#EBEBEB" stroke-width="1.6" />
<line x1="389.00" y1="371.30" x2="678.80" y2="371.30" stroke="#EBEBEB" stroke-width="1.6" />
<line x1="422.60" y1="359.40" x2="422.60" y2="627.20" stroke="#EBEBEB" stroke-width="1.6" />
<line x1="478.28" y1="359.40" x2="478.28" y2="627.20" stroke="#EBEBEB" stroke-width="1.6" />
<line x1="533.96" y1="359.40" x2="533.96" y2="627.20" stroke="#EBEBEB" stroke-width="1.6" />
<line x1="589.64" y1="359.40" x2="589.64" y2="627.20" stroke="#EBEBEB" stroke-width="1.6" />
<line x1="645.32" y1="359.40" x2="645.32" y2="627.20" stroke="#EBEBEB" stroke-width="1.6" />
<line x1="422.60" y1="482.44" x2="422.60" y2="484.00" stroke="#333333" stroke-width="1.3" />
<line x1="422.60" y1="487.58" x2="422.60" y2="485.77" stroke="#333333" stroke-width="1.3" />
<rect x="397.54" y="484.00" width="50.11" height="1.77" fill="#F8766D" stroke="#333333" stroke-width="1.3"/>
<line x1="397.54" y1="484.89" x2="447.66" y2="484.89" stroke="#333333" stroke-width="2.6" />
<line x1="478.28" y1="471.42" x2="478.28" y2="473.03" stroke="#333333" stroke-width="1.3" />
<line x1="478.28" y1="476.32" x2="478.28" y2="474.71" stroke="#333333" stroke-width="1.3" />
<rect x="453.22" y="473.03" width="50.11" height="1.68" fill="#A3A500" stroke="#333333" stroke-width="1.3"/>
<line x1="453.22" y1="473.87" x2="503.34" y2="473.87" stroke="#333333" stroke-width="2.6" />
<line x1="533.96" y1="493.46" x2="533.96" y2="495.78" stroke="#333333" stroke-width="1.3" />
<line x1="533.96" y1="501.29" x2="533.96" y2="498.47" stroke="#333333" stroke-width="1.3" />
<rect x="508.90" y="495.78" width="50.11" height="2.69" fill="#00BF7D" stroke="#333333" stroke-width="1.3"/>
<line x1="508.90" y1="497.13" x2="559.02" y2="497.13" stroke="#333333" stroke-width="2.6" />
<line x1="589.64" y1="492.97" x2="589.64" y2="496.02" stroke="#333333" stroke-width="1.3" />
<line x1="589.64" y1="502.27" x2="589.64" y2="499.22" stroke="#333333" stroke-width="1.3" />
<rect x="564.58" y="496.02" width="50.11" height="3.20" fill="#00B0F6" stroke="#333333" stroke-width="1.3"/>
<line x1="564.58" y1="497.62" x2="614.70" y2="497.62" stroke="#333333" stroke-width="2.6" />
<line x1="645.32" y1="491.99" x2="645.32" y2="495.27" stroke="#333333" stroke-width="1.3" />
<line x1="645.32" y1="502.76" x2="645.32" y2="498.98" stroke="#333333" stroke-width="1.3" />
<rect x="620.26" y="495.27" width="50.11" height="3.71" fill="#E76BF3" stroke="#333333" stroke-width="1.3"/>
<line x1="620.26" y1="497.13" x2="670.38" y2="497.13" stroke="#333333" stroke-width="2.6" />
<text x="383.00" y="620.30" font-size="10.3" text-anchor="end" fill="#4D4D4D" stroke="#4D4D4D" stroke-width="0.3" font-weight="normal" >0.00</text>
<text x="383.00" y="559.10" font-size="10.3" text-anchor="end" fill="#4D4D4D" stroke="#4D4D4D" stroke-width="0.3" font-weight="normal" >0.25</text>
<text x="383.00" y="497.90" font-size="10.3" text-anchor="end" fill="#4D4D4D" stroke="#4D4D4D" stroke-width="0.3" font-weight="normal" >0.50</text>
<text x="383.00" y="436.70" font-size="10.3" text-anchor="end" fill="#4D4D4D" stroke="#4D4D4D" stroke-width="0.3" font-weight="normal" >0.75</text>
<text x="383.00" y="375.50" font-size="10.3" text-anchor="end" fill="#4D4D4D" stroke="#4D4D4D" stroke-width="0.3" font-weight="normal" >1.00</text>
<text x="422.60" y="642.10" font-size="10.3" text-anchor="middle" fill="#4D4D4D" stroke="#4D4D4D" stroke-width="0.3" font-weight="normal" >Day 0</text>
<text x="478.28" y="642.10" font-size="10.3" text-anchor="middle" fill="#4D4D4D" stroke="#4D4D4D" stroke-width="0.3" font-weight="normal" >Day 1</text>
<text x="533.96" y="642.10" font-size="10.3" text-anchor="middle" fill="#4D4D4D" stroke="#4D4D4D" stroke-width="0.3" font-weight="normal" >Day 2</text>
<text x="589.64" y="642.10" font-size="10.3" text-anchor="middle" fill="#4D4D4D" stroke="#4D4D4D" stroke-width="0.3" font-weight="normal" >Day 3</text>
<text x="645.32" y="642.10" font-size="10.3" text-anchor="middle" fill="#4D4D4D" stroke="#4D4D4D" stroke-width="0.3" font-weight="normal" >Day 4</text>
<text x="533.90" y="656.80" font-size="13.1" text-anchor="middle" fill="#000" stroke="#000" stroke-width="0.3" font-weight="normal" >Postoperative Day</text>
<text x="355.60" y="493.30" font-size="13.1" text-anchor="middle" fill="#000" stroke="#000" stroke-width="0.3" font-weight="normal" transform="rotate(-90 355.60 493.30)">Correlation</text>
<text x="389.20" y="349.30" font-size="15.4" text-anchor="start" fill="#000" stroke="#000" stroke-width="0.3" font-weight="normal" >Correlation</text>
<text x="346.90" y="349.30" font-size="16.5" text-anchor="start" fill="#000" stroke="#000" stroke-width="0.15" font-weight="bold" >D</text>
<text x="1.30" y="684.30" font-size="16.5" text-anchor="start" fill="#000" stroke="#000" stroke-width="0.15" font-weight="bold" >E</text>
<text x="53.20" y="708.40" font-size="14.3" text-anchor="middle" fill="#000" stroke="#000" stroke-width="0.15" font-weight="bold" >Postop Day</text>
<text x="171.20" y="708.40" font-size="14.3" text-anchor="middle" fill="#000" stroke="#000" stroke-width="0.15" font-weight="bold" >Max Pain &gt; 4 (AUC)</text>
<text x="314.90" y="708.40" font-size="14.3" text-anchor="middle" fill="#000" stroke="#000" stroke-width="0.15" font-weight="bold" >Max Pain &gt; 6 (AUC)</text>
<text x="458.00" y="708.40" font-size="14.3" text-anchor="middle" fill="#000" stroke="#000" stroke-width="0.15" font-weight="bold" >NRS (RMSE)</text>
<text x="601.10" y="708.40" font-size="14.3" text-anchor="middle" fill="#000" stroke="#000" stroke-width="0.15" font-weight="bold" >NRS (Correlation)</text>
<text x="53.20" y="731.80" font-size="14.3" text-anchor="middle" fill="#000" stroke="#000" stroke-width="0.3" font-weight="normal" >0</text>
<text x="171.20" y="731.80" font-size="14.3" text-anchor="middle" fill="#000" stroke="#000" stroke-width="0.3" font-weight="normal" >0.763 (0.757, 0.770)</text>
<text x="314.90" y="731.80" font-size="14.3" text-anchor="middle" fill="#000" stroke="#000" stroke-width="0.3" font-weight="normal" >0.749 (0.743, 0.756)</text>
<text x="458.00" y="731.80" font-size="14.3" text-anchor="middle" fill="#000" stroke="#000" stroke-width="0.3" font-weight="normal" >2.630 (2.606, 2.653)</text>
<text x="601.10" y="731.80" font-size="14.3" text-anchor="middle" fill="#000" stroke="#000" stroke-width="0.3" font-weight="normal" >0.536 (0.525, 0.546)</text>
<text x="53.20" y="755.45" font-size="14.3" text-anchor="middle" fill="#000" stroke="#000" stroke-width="0.3" font-weight="normal" >1</text>
<text x="171.20" y="755.45" font-size="14.3" text-anchor="middle" fill="#000" stroke="#000" stroke-width="0.3" font-weight="normal" >0.792 (0.784, 0.799)</text>
<text x="314.90" y="755.45" font-size="14.3" text-anchor="middle" fill="#000" stroke="#000" stroke-width="0.3" font-weight="normal" >0.761 (0.754, 0.769)</text>
<text x="458.00" y="755.45" font-size="14.3" text-anchor="middle" fill="#000" stroke="#000" stroke-width="0.3" font-weight="normal" >2.389 (2.363, 2.414)</text>
<text x="601.10" y="755.45" font-size="14.3" text-anchor="middle" fill="#000" stroke="#000" stroke-width="0.3" font-weight="normal" >0.581 (0.571, 0.591)</text>
<text x="53.20" y="779.10" font-size="14.3" text-anchor="middle" fill="#000" stroke="#000" stroke-width="0.3" font-weight="normal" >2</text>
<text x="171.20" y="779.10" font-size="14.3" text-anchor="middle" fill="#000" stroke="#000" stroke-width="0.3" font-weight="normal" >0.739 (0.729, 0.749)</text>
<text x="314.90" y="779.10" font-size="14.3" text-anchor="middle" fill="#000" stroke="#000" stroke-width="0.3" font-weight="normal" >0.719 (0.708, 0.729)</text>
<text x="458.00" y="779.10" font-size="14.3" text-anchor="middle" fill="#000" stroke="#000" stroke-width="0.3" font-weight="normal" >2.443 (2.409, 2.476)</text>
<text x="601.10" y="779.10" font-size="14.3" text-anchor="middle" fill="#000" stroke="#000" stroke-width="0.3" font-weight="normal" >0.486 (0.469, 0.501)</text>
<text x="53.20" y="802.75" font-size="14.3" text-anchor="middle" fill="#000" stroke="#000" stroke-width="0.3" font-weight="normal" >3</text>
<text x="171.20" y="802.75" font-size="14.3" text-anchor="middle" fill="#000" stroke="#000" stroke-width="0.3" font-weight="normal" >0.732 (0.720, 0.743)</text>
<text x="314.90" y="802.75" font-size="14.3" text-anchor="middle" fill="#000" stroke="#000" stroke-width="0.3" font-weight="normal" >0.730 (0.717, 0.742)</text>
<text x="458.00" y="802.75" font-size="14.3" text-anchor="middle" fill="#000" stroke="#000" stroke-width="0.3" font-weight="normal" >2.538 (2.500, 2.578)</text>
<text x="601.10" y="802.75" font-size="14.3" text-anchor="middle" fill="#000" stroke="#000" stroke-width="0.3" font-weight="normal" >0.484 (0.465, 0.503)</text>
<text x="53.20" y="826.40" font-size="14.3" text-anchor="middle" fill="#000" stroke="#000" stroke-width="0.3" font-weight="normal" >4</text>
<text x="171.20" y="826.40" font-size="14.3" text-anchor="middle" fill="#000" stroke="#000" stroke-width="0.3" font-weight="normal" >0.739 (0.725, 0.753)</text>
<text x="314.90" y="826.40" font-size="14.3" text-anchor="middle" fill="#000" stroke="#000" stroke-width="0.3" font-weight="normal" >0.726 (0.712, 0.740)</text>
<text x="458.00" y="826.40" font-size="14.3" text-anchor="middle" fill="#000" stroke="#000" stroke-width="0.3" font-weight="normal" >2.618 (2.571, 2.665)</text>
<text x="601.10" y="826.40" font-size="14.3" text-anchor="middle" fill="#000" stroke="#000" stroke-width="0.3" font-weight="normal" >0.486 (0.463, 0.507)</text>
</svg>
</body></html>
